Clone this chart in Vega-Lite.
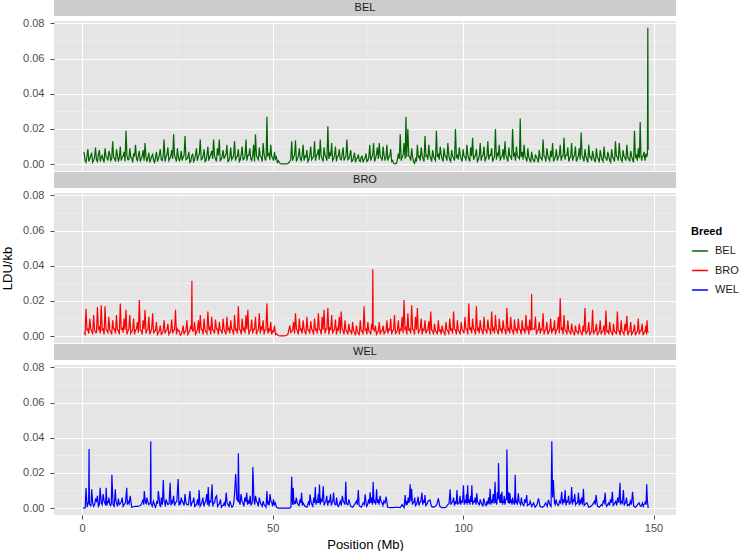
{
"$schema":"https://vega.github.io/schema/vega-lite/v6.json",
"background":"white",
"padding":{"left":1,"top":0,"right":0,"bottom":0},
"config":{"view":{"fill":"#E5E5E5","stroke":null},"font":"Liberation Sans",
"axis":{"gridColor":"#FFFFFF","gridWidth":1.1,"domain":false,"tickColor":"#4D4D4D","tickSize":4,"labelColor":"#4D4D4D","labelFont":"Liberation Sans","labelFontSize":11,"labelOverlap":false,"titleFont":"Liberation Sans","titleFontSize":13,"titleFontWeight":"normal","titleColor":"#000000"},
"legend":{"titleFont":"Liberation Sans","titleFontSize":11,"titleFontWeight":"bold","titleColor":"#000000","labelFont":"Liberation Sans","labelFontSize":11,"labelColor":"#1A1A1A","symbolType":"stroke","symbolSize":250,"symbolStrokeWidth":1.5,"rowPadding":5.5,"labelOffset":6}},
"datasets":{"ld":[
{"Breed":"BEL","Mb":0.5,"LDU":0.007},{"Breed":"BEL","Mb":1,"LDU":0.001},{"Breed":"BEL","Mb":1.5,"LDU":0.0085},{"Breed":"BEL","Mb":2,"LDU":0.003},{"Breed":"BEL","Mb":2.5,"LDU":0.006},{"Breed":"BEL","Mb":3,"LDU":0.002},{"Breed":"BEL","Mb":3.5,"LDU":0.0095},{"Breed":"BEL","Mb":4,"LDU":0.0015},{"Breed":"BEL","Mb":4.5,"LDU":0.008},{"Breed":"BEL","Mb":5,"LDU":0.004},
{"Breed":"BEL","Mb":5.5,"LDU":0.0025},{"Breed":"BEL","Mb":6,"LDU":0.009},{"Breed":"BEL","Mb":6.5,"LDU":0.0035},{"Breed":"BEL","Mb":7,"LDU":0.0075},{"Breed":"BEL","Mb":7.5,"LDU":0.002},{"Breed":"BEL","Mb":8,"LDU":0.013},{"Breed":"BEL","Mb":8.5,"LDU":0.003},{"Breed":"BEL","Mb":9,"LDU":0.0085},{"Breed":"BEL","Mb":9.5,"LDU":0.0015},{"Breed":"BEL","Mb":10,"LDU":0.01},
{"Breed":"BEL","Mb":10.5,"LDU":0.004},{"Breed":"BEL","Mb":11,"LDU":0.007},{"Breed":"BEL","Mb":11.5,"LDU":0.019},{"Breed":"BEL","Mb":12,"LDU":0.0025},{"Breed":"BEL","Mb":12.5,"LDU":0.009},{"Breed":"BEL","Mb":13,"LDU":0.0035},{"Breed":"BEL","Mb":13.5,"LDU":0.006},{"Breed":"BEL","Mb":14,"LDU":0.011},{"Breed":"BEL","Mb":14.5,"LDU":0.002},{"Breed":"BEL","Mb":15,"LDU":0.0075},
{"Breed":"BEL","Mb":15.5,"LDU":0.003},{"Breed":"BEL","Mb":16,"LDU":0.008},{"Breed":"BEL","Mb":16.5,"LDU":0.012},{"Breed":"BEL","Mb":17,"LDU":0.0015},{"Breed":"BEL","Mb":17.5,"LDU":0.0065},{"Breed":"BEL","Mb":18,"LDU":0.0025},{"Breed":"BEL","Mb":18.5,"LDU":0.0055},{"Breed":"BEL","Mb":19,"LDU":0.001},{"Breed":"BEL","Mb":19.5,"LDU":0.007},{"Breed":"BEL","Mb":20,"LDU":0.003},
{"Breed":"BEL","Mb":20.5,"LDU":0.0085},{"Breed":"BEL","Mb":21,"LDU":0.002},{"Breed":"BEL","Mb":21.5,"LDU":0.014},{"Breed":"BEL","Mb":22,"LDU":0.004},{"Breed":"BEL","Mb":22.5,"LDU":0.0095},{"Breed":"BEL","Mb":23,"LDU":0.003},{"Breed":"BEL","Mb":23.5,"LDU":0.008},{"Breed":"BEL","Mb":24,"LDU":0.017},{"Breed":"BEL","Mb":24.5,"LDU":0.0035},{"Breed":"BEL","Mb":25,"LDU":0.009},
{"Breed":"BEL","Mb":25.5,"LDU":0.002},{"Breed":"BEL","Mb":26,"LDU":0.0075},{"Breed":"BEL","Mb":26.5,"LDU":0.004},{"Breed":"BEL","Mb":27,"LDU":0.016},{"Breed":"BEL","Mb":27.5,"LDU":0.003},{"Breed":"BEL","Mb":28,"LDU":0.007},{"Breed":"BEL","Mb":28.5,"LDU":0.0015},{"Breed":"BEL","Mb":29,"LDU":0.006},{"Breed":"BEL","Mb":29.5,"LDU":0.0025},{"Breed":"BEL","Mb":30,"LDU":0.009},
{"Breed":"BEL","Mb":30.5,"LDU":0.0045},{"Breed":"BEL","Mb":31,"LDU":0.014},{"Breed":"BEL","Mb":31.5,"LDU":0.003},{"Breed":"BEL","Mb":32,"LDU":0.0085},{"Breed":"BEL","Mb":32.5,"LDU":0.002},{"Breed":"BEL","Mb":33,"LDU":0.01},{"Breed":"BEL","Mb":33.5,"LDU":0.004},{"Breed":"BEL","Mb":34,"LDU":0.0075},{"Breed":"BEL","Mb":34.5,"LDU":0.014},{"Breed":"BEL","Mb":35,"LDU":0.003},
{"Breed":"BEL","Mb":35.5,"LDU":0.009},{"Breed":"BEL","Mb":36,"LDU":0.014},{"Breed":"BEL","Mb":36.5,"LDU":0.0025},{"Breed":"BEL","Mb":37,"LDU":0.008},{"Breed":"BEL","Mb":37.5,"LDU":0.0045},{"Breed":"BEL","Mb":38,"LDU":0.011},{"Breed":"BEL","Mb":38.5,"LDU":0.002},{"Breed":"BEL","Mb":39,"LDU":0.0095},{"Breed":"BEL","Mb":39.5,"LDU":0.0035},{"Breed":"BEL","Mb":40,"LDU":0.013},
{"Breed":"BEL","Mb":40.5,"LDU":0.004},{"Breed":"BEL","Mb":41,"LDU":0.0085},{"Breed":"BEL","Mb":41.5,"LDU":0.0025},{"Breed":"BEL","Mb":42,"LDU":0.01},{"Breed":"BEL","Mb":42.5,"LDU":0.003},{"Breed":"BEL","Mb":43,"LDU":0.014},{"Breed":"BEL","Mb":43.5,"LDU":0.005},{"Breed":"BEL","Mb":44,"LDU":0.009},{"Breed":"BEL","Mb":44.5,"LDU":0.002},{"Breed":"BEL","Mb":45,"LDU":0.011},
{"Breed":"BEL","Mb":45.5,"LDU":0.017},{"Breed":"BEL","Mb":46,"LDU":0.0035},{"Breed":"BEL","Mb":46.5,"LDU":0.0095},{"Breed":"BEL","Mb":47,"LDU":0.004},{"Breed":"BEL","Mb":47.5,"LDU":0.012},{"Breed":"BEL","Mb":48,"LDU":0.003},{"Breed":"BEL","Mb":48.3,"LDU":0.004},{"Breed":"BEL","Mb":48.5,"LDU":0.027},{"Breed":"BEL","Mb":48.7,"LDU":0.005},{"Breed":"BEL","Mb":49,"LDU":0.006},{"Breed":"BEL","Mb":49.5,"LDU":0.011},{"Breed":"BEL","Mb":50,"LDU":0.0035},
{"Breed":"BEL","Mb":50.5,"LDU":0.007},{"Breed":"BEL","Mb":51,"LDU":0.004},{"Breed":"BEL","Mb":51.5,"LDU":0.002},{"Breed":"BEL","Mb":52,"LDU":0.0003},{"Breed":"BEL","Mb":52.5,"LDU":0.0002},{"Breed":"BEL","Mb":53,"LDU":0.0002},{"Breed":"BEL","Mb":53.5,"LDU":0.0002},{"Breed":"BEL","Mb":54,"LDU":0.0003},{"Breed":"BEL","Mb":54.5,"LDU":0.0015},{"Breed":"BEL","Mb":55,"LDU":0.013},
{"Breed":"BEL","Mb":55.5,"LDU":0.004},{"Breed":"BEL","Mb":56,"LDU":0.0135},{"Breed":"BEL","Mb":56.5,"LDU":0.003},{"Breed":"BEL","Mb":57,"LDU":0.009},{"Breed":"BEL","Mb":57.5,"LDU":0.002},{"Breed":"BEL","Mb":58,"LDU":0.011},{"Breed":"BEL","Mb":58.5,"LDU":0.0045},{"Breed":"BEL","Mb":59,"LDU":0.008},{"Breed":"BEL","Mb":59.5,"LDU":0.0025},{"Breed":"BEL","Mb":60,"LDU":0.01},
{"Breed":"BEL","Mb":60.5,"LDU":0.0035},{"Breed":"BEL","Mb":61,"LDU":0.013},{"Breed":"BEL","Mb":61.5,"LDU":0.005},{"Breed":"BEL","Mb":62,"LDU":0.0085},{"Breed":"BEL","Mb":62.5,"LDU":0.014},{"Breed":"BEL","Mb":63,"LDU":0.003},{"Breed":"BEL","Mb":63.5,"LDU":0.0095},{"Breed":"BEL","Mb":64,"LDU":0.004},{"Breed":"BEL","Mb":64.5,"LDU":0.0215},{"Breed":"BEL","Mb":65,"LDU":0.006},
{"Breed":"BEL","Mb":65.5,"LDU":0.012},{"Breed":"BEL","Mb":66,"LDU":0.003},{"Breed":"BEL","Mb":66.5,"LDU":0.01},{"Breed":"BEL","Mb":67,"LDU":0.0045},{"Breed":"BEL","Mb":67.5,"LDU":0.0085},{"Breed":"BEL","Mb":68,"LDU":0.0025},{"Breed":"BEL","Mb":68.5,"LDU":0.0095},{"Breed":"BEL","Mb":69,"LDU":0.0035},{"Breed":"BEL","Mb":69.5,"LDU":0.014},{"Breed":"BEL","Mb":70,"LDU":0.003},
{"Breed":"BEL","Mb":70.5,"LDU":0.008},{"Breed":"BEL","Mb":71,"LDU":0.002},{"Breed":"BEL","Mb":71.5,"LDU":0.0065},{"Breed":"BEL","Mb":72,"LDU":0.003},{"Breed":"BEL","Mb":72.5,"LDU":0.0055},{"Breed":"BEL","Mb":73,"LDU":0.0015},{"Breed":"BEL","Mb":73.5,"LDU":0.0045},{"Breed":"BEL","Mb":74,"LDU":0.0025},{"Breed":"BEL","Mb":74.5,"LDU":0.006},{"Breed":"BEL","Mb":75,"LDU":0.002},
{"Breed":"BEL","Mb":75.5,"LDU":0.011},{"Breed":"BEL","Mb":76,"LDU":0.004},{"Breed":"BEL","Mb":76.5,"LDU":0.012},{"Breed":"BEL","Mb":77,"LDU":0.003},{"Breed":"BEL","Mb":77.5,"LDU":0.0095},{"Breed":"BEL","Mb":78,"LDU":0.012},{"Breed":"BEL","Mb":78.5,"LDU":0.0035},{"Breed":"BEL","Mb":79,"LDU":0.01},{"Breed":"BEL","Mb":79.5,"LDU":0.0025},{"Breed":"BEL","Mb":80,"LDU":0.011},
{"Breed":"BEL","Mb":80.5,"LDU":0.004},{"Breed":"BEL","Mb":81,"LDU":0.0085},{"Breed":"BEL","Mb":81.5,"LDU":0.002},{"Breed":"BEL","Mb":82,"LDU":0.0003},{"Breed":"BEL","Mb":82.5,"LDU":0.0005},{"Breed":"BEL","Mb":83,"LDU":0.006},{"Breed":"BEL","Mb":83.5,"LDU":0.017},{"Breed":"BEL","Mb":84,"LDU":0.004},{"Breed":"BEL","Mb":84.5,"LDU":0.012},{"Breed":"BEL","Mb":84.8,"LDU":0.003},{"Breed":"BEL","Mb":85,"LDU":0.027},{"Breed":"BEL","Mb":85.2,"LDU":0.004},
{"Breed":"BEL","Mb":85.5,"LDU":0.02},{"Breed":"BEL","Mb":86,"LDU":0.004},{"Breed":"BEL","Mb":86.5,"LDU":0.009},{"Breed":"BEL","Mb":87,"LDU":0.0015},{"Breed":"BEL","Mb":87.5,"LDU":0.003},{"Breed":"BEL","Mb":88,"LDU":0.011},{"Breed":"BEL","Mb":88.5,"LDU":0.0045},{"Breed":"BEL","Mb":89,"LDU":0.0095},{"Breed":"BEL","Mb":89.5,"LDU":0.003},{"Breed":"BEL","Mb":90,"LDU":0.016},
{"Breed":"BEL","Mb":90.5,"LDU":0.005},{"Breed":"BEL","Mb":91,"LDU":0.011},{"Breed":"BEL","Mb":91.5,"LDU":0.0035},{"Breed":"BEL","Mb":92,"LDU":0.008},{"Breed":"BEL","Mb":92.5,"LDU":0.003},{"Breed":"BEL","Mb":93,"LDU":0.019},{"Breed":"BEL","Mb":93.5,"LDU":0.006},{"Breed":"BEL","Mb":94,"LDU":0.01},{"Breed":"BEL","Mb":94.5,"LDU":0.003},{"Breed":"BEL","Mb":95,"LDU":0.009},
{"Breed":"BEL","Mb":95.5,"LDU":0.0045},{"Breed":"BEL","Mb":96,"LDU":0.012},{"Breed":"BEL","Mb":96.5,"LDU":0.0025},{"Breed":"BEL","Mb":97,"LDU":0.008},{"Breed":"BEL","Mb":97.5,"LDU":0.0035},{"Breed":"BEL","Mb":98,"LDU":0.02},{"Breed":"BEL","Mb":98.5,"LDU":0.005},{"Breed":"BEL","Mb":99,"LDU":0.0095},{"Breed":"BEL","Mb":99.5,"LDU":0.003},{"Breed":"BEL","Mb":100,"LDU":0.0085},
{"Breed":"BEL","Mb":100.5,"LDU":0.004},{"Breed":"BEL","Mb":101,"LDU":0.011},{"Breed":"BEL","Mb":101.5,"LDU":0.003},{"Breed":"BEL","Mb":102,"LDU":0.0095},{"Breed":"BEL","Mb":102.5,"LDU":0.015},{"Breed":"BEL","Mb":103,"LDU":0.004},{"Breed":"BEL","Mb":103.5,"LDU":0.0085},{"Breed":"BEL","Mb":104,"LDU":0.0025},{"Breed":"BEL","Mb":104.5,"LDU":0.012},{"Breed":"BEL","Mb":105,"LDU":0.0045},
{"Breed":"BEL","Mb":105.5,"LDU":0.01},{"Breed":"BEL","Mb":106,"LDU":0.0035},{"Breed":"BEL","Mb":106.5,"LDU":0.013},{"Breed":"BEL","Mb":107,"LDU":0.005},{"Breed":"BEL","Mb":107.5,"LDU":0.009},{"Breed":"BEL","Mb":108,"LDU":0.003},{"Breed":"BEL","Mb":108.5,"LDU":0.02},{"Breed":"BEL","Mb":109,"LDU":0.006},{"Breed":"BEL","Mb":109.5,"LDU":0.011},{"Breed":"BEL","Mb":110,"LDU":0.004},
{"Breed":"BEL","Mb":110.5,"LDU":0.0085},{"Breed":"BEL","Mb":111,"LDU":0.013},{"Breed":"BEL","Mb":111.5,"LDU":0.0035},{"Breed":"BEL","Mb":112,"LDU":0.0095},{"Breed":"BEL","Mb":112.5,"LDU":0.0045},{"Breed":"BEL","Mb":113,"LDU":0.02},{"Breed":"BEL","Mb":113.5,"LDU":0.006},{"Breed":"BEL","Mb":114,"LDU":0.01},{"Breed":"BEL","Mb":114.5,"LDU":0.004},{"Breed":"BEL","Mb":114.8,"LDU":0.003},{"Breed":"BEL","Mb":115,"LDU":0.026},{"Breed":"BEL","Mb":115.2,"LDU":0.004},
{"Breed":"BEL","Mb":115.5,"LDU":0.007},{"Breed":"BEL","Mb":116,"LDU":0.011},{"Breed":"BEL","Mb":116.5,"LDU":0.0035},{"Breed":"BEL","Mb":117,"LDU":0.009},{"Breed":"BEL","Mb":117.5,"LDU":0.0025},{"Breed":"BEL","Mb":118,"LDU":0.007},{"Breed":"BEL","Mb":118.5,"LDU":0.002},{"Breed":"BEL","Mb":119,"LDU":0.0055},{"Breed":"BEL","Mb":119.5,"LDU":0.003},{"Breed":"BEL","Mb":120,"LDU":0.008},
{"Breed":"BEL","Mb":120.5,"LDU":0.0035},{"Breed":"BEL","Mb":121,"LDU":0.014},{"Breed":"BEL","Mb":121.5,"LDU":0.004},{"Breed":"BEL","Mb":122,"LDU":0.009},{"Breed":"BEL","Mb":122.5,"LDU":0.003},{"Breed":"BEL","Mb":123,"LDU":0.0075},{"Breed":"BEL","Mb":123.5,"LDU":0.012},{"Breed":"BEL","Mb":124,"LDU":0.003},{"Breed":"BEL","Mb":124.5,"LDU":0.0085},{"Breed":"BEL","Mb":125,"LDU":0.004},
{"Breed":"BEL","Mb":125.5,"LDU":0.011},{"Breed":"BEL","Mb":126,"LDU":0.0045},{"Breed":"BEL","Mb":126.5,"LDU":0.015},{"Breed":"BEL","Mb":127,"LDU":0.005},{"Breed":"BEL","Mb":127.5,"LDU":0.0095},{"Breed":"BEL","Mb":128,"LDU":0.0035},{"Breed":"BEL","Mb":128.5,"LDU":0.012},{"Breed":"BEL","Mb":129,"LDU":0.004},{"Breed":"BEL","Mb":129.5,"LDU":0.01},{"Breed":"BEL","Mb":130,"LDU":0.003},
{"Breed":"BEL","Mb":130.5,"LDU":0.009},{"Breed":"BEL","Mb":131,"LDU":0.018},{"Breed":"BEL","Mb":131.5,"LDU":0.0035},{"Breed":"BEL","Mb":132,"LDU":0.0085},{"Breed":"BEL","Mb":132.5,"LDU":0.0025},{"Breed":"BEL","Mb":133,"LDU":0.011},{"Breed":"BEL","Mb":133.5,"LDU":0.004},{"Breed":"BEL","Mb":134,"LDU":0.0075},{"Breed":"BEL","Mb":134.5,"LDU":0.002},{"Breed":"BEL","Mb":135,"LDU":0.009},
{"Breed":"BEL","Mb":135.5,"LDU":0.003},{"Breed":"BEL","Mb":136,"LDU":0.008},{"Breed":"BEL","Mb":136.5,"LDU":0.0025},{"Breed":"BEL","Mb":137,"LDU":0.01},{"Breed":"BEL","Mb":137.5,"LDU":0.0035},{"Breed":"BEL","Mb":138,"LDU":0.007},{"Breed":"BEL","Mb":138.5,"LDU":0.002},{"Breed":"BEL","Mb":139,"LDU":0.0085},{"Breed":"BEL","Mb":139.5,"LDU":0.003},{"Breed":"BEL","Mb":140,"LDU":0.013},
{"Breed":"BEL","Mb":140.5,"LDU":0.004},{"Breed":"BEL","Mb":141,"LDU":0.012},{"Breed":"BEL","Mb":141.5,"LDU":0.0025},{"Breed":"BEL","Mb":142,"LDU":0.008},{"Breed":"BEL","Mb":142.5,"LDU":0.0035},{"Breed":"BEL","Mb":143,"LDU":0.011},{"Breed":"BEL","Mb":143.5,"LDU":0.003},{"Breed":"BEL","Mb":144,"LDU":0.0075},{"Breed":"BEL","Mb":144.5,"LDU":0.0025},{"Breed":"BEL","Mb":145,"LDU":0.019},
{"Breed":"BEL","Mb":145.5,"LDU":0.005},{"Breed":"BEL","Mb":146,"LDU":0.009},{"Breed":"BEL","Mb":146.3,"LDU":0.004},{"Breed":"BEL","Mb":146.5,"LDU":0.024},{"Breed":"BEL","Mb":146.7,"LDU":0.005},{"Breed":"BEL","Mb":147,"LDU":0.004},{"Breed":"BEL","Mb":147.5,"LDU":0.007},{"Breed":"BEL","Mb":148,"LDU":0.006},{"Breed":"BEL","Mb":148.4,"LDU":0.006},{"Breed":"BEL","Mb":148.5,"LDU":0.0775},{"Breed":"BEL","Mb":148.6,"LDU":0.008},
{"Breed":"BEL","Mb":0.75,"LDU":0.002},{"Breed":"BEL","Mb":1.25,"LDU":0.0045},{"Breed":"BEL","Mb":1.75,"LDU":0.0015},{"Breed":"BEL","Mb":2.25,"LDU":0.005},{"Breed":"BEL","Mb":2.75,"LDU":0.001},{"Breed":"BEL","Mb":3.25,"LDU":0.004},{"Breed":"BEL","Mb":3.75,"LDU":0.0025},{"Breed":"BEL","Mb":4.25,"LDU":0.0055},{"Breed":"BEL","Mb":4.75,"LDU":0.0015},{"Breed":"BEL","Mb":5.25,"LDU":0.005},
{"Breed":"BEL","Mb":5.75,"LDU":0.001},{"Breed":"BEL","Mb":6.25,"LDU":0.0045},{"Breed":"BEL","Mb":6.75,"LDU":0.002},{"Breed":"BEL","Mb":7.25,"LDU":0.0055},{"Breed":"BEL","Mb":7.75,"LDU":0.003},{"Breed":"BEL","Mb":8.25,"LDU":0.004},{"Breed":"BEL","Mb":8.75,"LDU":0.0015},{"Breed":"BEL","Mb":9.25,"LDU":0.005},{"Breed":"BEL","Mb":9.75,"LDU":0.0035},{"Breed":"BEL","Mb":10.25,"LDU":0.002},
{"Breed":"BEL","Mb":10.75,"LDU":0.0045},{"Breed":"BEL","Mb":11.25,"LDU":0.0015},{"Breed":"BEL","Mb":11.75,"LDU":0.005},{"Breed":"BEL","Mb":12.25,"LDU":0.0025},{"Breed":"BEL","Mb":12.75,"LDU":0.004},{"Breed":"BEL","Mb":13.25,"LDU":0.001},{"Breed":"BEL","Mb":13.75,"LDU":0.0045},{"Breed":"BEL","Mb":14.25,"LDU":0.003},{"Breed":"BEL","Mb":14.75,"LDU":0.005},{"Breed":"BEL","Mb":15.25,"LDU":0.0015},
{"Breed":"BEL","Mb":15.75,"LDU":0.0045},{"Breed":"BEL","Mb":16.25,"LDU":0.002},{"Breed":"BEL","Mb":16.75,"LDU":0.004},{"Breed":"BEL","Mb":17.25,"LDU":0.0035},{"Breed":"BEL","Mb":17.75,"LDU":0.001},{"Breed":"BEL","Mb":18.25,"LDU":0.0045},{"Breed":"BEL","Mb":18.75,"LDU":0.002},{"Breed":"BEL","Mb":19.25,"LDU":0.004},{"Breed":"BEL","Mb":19.75,"LDU":0.0015},{"Breed":"BEL","Mb":20.25,"LDU":0.005},
{"Breed":"BEL","Mb":20.75,"LDU":0.0025},{"Breed":"BEL","Mb":21.25,"LDU":0.0045},{"Breed":"BEL","Mb":21.75,"LDU":0.0015},{"Breed":"BEL","Mb":22.25,"LDU":0.0055},{"Breed":"BEL","Mb":22.75,"LDU":0.002},{"Breed":"BEL","Mb":23.25,"LDU":0.0045},{"Breed":"BEL","Mb":23.75,"LDU":0.003},{"Breed":"BEL","Mb":24.25,"LDU":0.005},{"Breed":"BEL","Mb":24.75,"LDU":0.0015},{"Breed":"BEL","Mb":25.25,"LDU":0.004},
{"Breed":"BEL","Mb":25.75,"LDU":0.0035},{"Breed":"BEL","Mb":26.25,"LDU":0.002},{"Breed":"BEL","Mb":26.75,"LDU":0.005},{"Breed":"BEL","Mb":27.25,"LDU":0.0025},{"Breed":"BEL","Mb":27.75,"LDU":0.004},{"Breed":"BEL","Mb":28.25,"LDU":0.001},{"Breed":"BEL","Mb":28.75,"LDU":0.0045},{"Breed":"BEL","Mb":29.25,"LDU":0.0015},{"Breed":"BEL","Mb":29.75,"LDU":0.005},{"Breed":"BEL","Mb":30.25,"LDU":0.002},
{"Breed":"BEL","Mb":30.75,"LDU":0.0055},{"Breed":"BEL","Mb":31.25,"LDU":0.0025},{"Breed":"BEL","Mb":31.75,"LDU":0.0045},{"Breed":"BEL","Mb":32.25,"LDU":0.0015},{"Breed":"BEL","Mb":32.75,"LDU":0.005},{"Breed":"BEL","Mb":33.25,"LDU":0.002},{"Breed":"BEL","Mb":33.75,"LDU":0.0055},{"Breed":"BEL","Mb":34.25,"LDU":0.003},{"Breed":"BEL","Mb":34.75,"LDU":0.0045},{"Breed":"BEL","Mb":35.25,"LDU":0.0015},
{"Breed":"BEL","Mb":35.75,"LDU":0.005},{"Breed":"BEL","Mb":36.25,"LDU":0.002},{"Breed":"BEL","Mb":36.75,"LDU":0.0045},{"Breed":"BEL","Mb":37.25,"LDU":0.003},{"Breed":"BEL","Mb":37.75,"LDU":0.0055},{"Breed":"BEL","Mb":38.25,"LDU":0.0015},{"Breed":"BEL","Mb":38.75,"LDU":0.004},{"Breed":"BEL","Mb":39.25,"LDU":0.0025},{"Breed":"BEL","Mb":39.75,"LDU":0.005},{"Breed":"BEL","Mb":40.25,"LDU":0.002},
{"Breed":"BEL","Mb":40.75,"LDU":0.0045},{"Breed":"BEL","Mb":41.25,"LDU":0.0015},{"Breed":"BEL","Mb":41.75,"LDU":0.0055},{"Breed":"BEL","Mb":42.25,"LDU":0.0025},{"Breed":"BEL","Mb":42.75,"LDU":0.0045},{"Breed":"BEL","Mb":43.25,"LDU":0.002},{"Breed":"BEL","Mb":43.75,"LDU":0.005},{"Breed":"BEL","Mb":44.25,"LDU":0.003},{"Breed":"BEL","Mb":44.75,"LDU":0.0045},{"Breed":"BEL","Mb":45.25,"LDU":0.0015},
{"Breed":"BEL","Mb":45.75,"LDU":0.005},{"Breed":"BEL","Mb":46.25,"LDU":0.0025},{"Breed":"BEL","Mb":46.75,"LDU":0.0045},{"Breed":"BEL","Mb":47.25,"LDU":0.0015},{"Breed":"BEL","Mb":47.75,"LDU":0.0055},{"Breed":"BEL","Mb":48.15,"LDU":0.002},{"Breed":"BEL","Mb":49.25,"LDU":0.0025},{"Breed":"BEL","Mb":49.75,"LDU":0.0045},{"Breed":"BEL","Mb":50.25,"LDU":0.002},{"Breed":"BEL","Mb":50.75,"LDU":0.003},{"Breed":"BEL","Mb":51.25,"LDU":0.001},
{"Breed":"BEL","Mb":54.75,"LDU":0.0025},{"Breed":"BEL","Mb":55.25,"LDU":0.002},{"Breed":"BEL","Mb":55.75,"LDU":0.005},{"Breed":"BEL","Mb":56.25,"LDU":0.0015},{"Breed":"BEL","Mb":56.75,"LDU":0.0045},{"Breed":"BEL","Mb":57.25,"LDU":0.003},{"Breed":"BEL","Mb":57.75,"LDU":0.005},{"Breed":"BEL","Mb":58.25,"LDU":0.002},{"Breed":"BEL","Mb":58.75,"LDU":0.004},{"Breed":"BEL","Mb":59.25,"LDU":0.0015},{"Breed":"BEL","Mb":59.75,"LDU":0.005},{"Breed":"BEL","Mb":60.25,"LDU":0.0025},
{"Breed":"BEL","Mb":60.75,"LDU":0.0045},{"Breed":"BEL","Mb":61.25,"LDU":0.002},{"Breed":"BEL","Mb":61.75,"LDU":0.0055},{"Breed":"BEL","Mb":62.25,"LDU":0.0025},{"Breed":"BEL","Mb":62.75,"LDU":0.0045},{"Breed":"BEL","Mb":63.25,"LDU":0.0015},{"Breed":"BEL","Mb":63.75,"LDU":0.005},{"Breed":"BEL","Mb":64.25,"LDU":0.002},{"Breed":"BEL","Mb":64.75,"LDU":0.003},{"Breed":"BEL","Mb":65.25,"LDU":0.0045},
{"Breed":"BEL","Mb":65.75,"LDU":0.002},{"Breed":"BEL","Mb":66.25,"LDU":0.005},{"Breed":"BEL","Mb":66.75,"LDU":0.0015},{"Breed":"BEL","Mb":67.25,"LDU":0.0045},{"Breed":"BEL","Mb":67.75,"LDU":0.003},{"Breed":"BEL","Mb":68.25,"LDU":0.0055},{"Breed":"BEL","Mb":68.75,"LDU":0.002},{"Breed":"BEL","Mb":69.25,"LDU":0.0045},{"Breed":"BEL","Mb":69.75,"LDU":0.0025},{"Breed":"BEL","Mb":70.25,"LDU":0.005},
{"Breed":"BEL","Mb":70.75,"LDU":0.0015},{"Breed":"BEL","Mb":71.25,"LDU":0.004},{"Breed":"BEL","Mb":71.75,"LDU":0.001},{"Breed":"BEL","Mb":72.25,"LDU":0.0035},{"Breed":"BEL","Mb":72.75,"LDU":0.002},{"Breed":"BEL","Mb":73.25,"LDU":0.004},{"Breed":"BEL","Mb":73.75,"LDU":0.001},{"Breed":"BEL","Mb":74.25,"LDU":0.0035},{"Breed":"BEL","Mb":74.75,"LDU":0.0015},{"Breed":"BEL","Mb":75.25,"LDU":0.004},
{"Breed":"BEL","Mb":75.75,"LDU":0.002},{"Breed":"BEL","Mb":76.25,"LDU":0.005},{"Breed":"BEL","Mb":76.75,"LDU":0.0015},{"Breed":"BEL","Mb":77.25,"LDU":0.0055},{"Breed":"BEL","Mb":77.75,"LDU":0.003},{"Breed":"BEL","Mb":78.25,"LDU":0.0045},{"Breed":"BEL","Mb":78.75,"LDU":0.002},{"Breed":"BEL","Mb":79.25,"LDU":0.005},{"Breed":"BEL","Mb":79.75,"LDU":0.0035},{"Breed":"BEL","Mb":80.25,"LDU":0.002},
{"Breed":"BEL","Mb":80.75,"LDU":0.0045},{"Breed":"BEL","Mb":81.25,"LDU":0.0015},{"Breed":"BEL","Mb":81.75,"LDU":0.0005},{"Breed":"BEL","Mb":82.25,"LDU":0.0002},{"Breed":"BEL","Mb":82.75,"LDU":0.0025},{"Breed":"BEL","Mb":83.25,"LDU":0.003},{"Breed":"BEL","Mb":83.75,"LDU":0.002},{"Breed":"BEL","Mb":84.25,"LDU":0.005},{"Breed":"BEL","Mb":85.75,"LDU":0.0045},
{"Breed":"BEL","Mb":86.25,"LDU":0.002},{"Breed":"BEL","Mb":86.75,"LDU":0.004},{"Breed":"BEL","Mb":87.25,"LDU":0.0005},{"Breed":"BEL","Mb":87.75,"LDU":0.0015},{"Breed":"BEL","Mb":88.25,"LDU":0.004},{"Breed":"BEL","Mb":88.75,"LDU":0.002},{"Breed":"BEL","Mb":89.25,"LDU":0.005},{"Breed":"BEL","Mb":89.75,"LDU":0.0015},{"Breed":"BEL","Mb":90.25,"LDU":0.0045},{"Breed":"BEL","Mb":90.75,"LDU":0.0025},
{"Breed":"BEL","Mb":91.25,"LDU":0.005},{"Breed":"BEL","Mb":91.75,"LDU":0.0015},{"Breed":"BEL","Mb":92.25,"LDU":0.0045},{"Breed":"BEL","Mb":92.75,"LDU":0.002},{"Breed":"BEL","Mb":93.25,"LDU":0.004},{"Breed":"BEL","Mb":93.75,"LDU":0.0025},{"Breed":"BEL","Mb":94.25,"LDU":0.0055},{"Breed":"BEL","Mb":94.75,"LDU":0.0015},{"Breed":"BEL","Mb":95.25,"LDU":0.0045},{"Breed":"BEL","Mb":95.75,"LDU":0.002},
{"Breed":"BEL","Mb":96.25,"LDU":0.005},{"Breed":"BEL","Mb":96.75,"LDU":0.0015},{"Breed":"BEL","Mb":97.25,"LDU":0.0045},{"Breed":"BEL","Mb":97.75,"LDU":0.002},{"Breed":"BEL","Mb":98.25,"LDU":0.004},{"Breed":"BEL","Mb":98.75,"LDU":0.0025},{"Breed":"BEL","Mb":99.25,"LDU":0.005},{"Breed":"BEL","Mb":99.75,"LDU":0.0015},{"Breed":"BEL","Mb":100.25,"LDU":0.0045},{"Breed":"BEL","Mb":100.75,"LDU":0.002},
{"Breed":"BEL","Mb":101.25,"LDU":0.005},{"Breed":"BEL","Mb":101.75,"LDU":0.0015},{"Breed":"BEL","Mb":102.25,"LDU":0.0045},{"Breed":"BEL","Mb":102.75,"LDU":0.0025},{"Breed":"BEL","Mb":103.25,"LDU":0.005},{"Breed":"BEL","Mb":103.75,"LDU":0.0015},{"Breed":"BEL","Mb":104.25,"LDU":0.0045},{"Breed":"BEL","Mb":104.75,"LDU":0.002},{"Breed":"BEL","Mb":105.25,"LDU":0.005},{"Breed":"BEL","Mb":105.75,"LDU":0.0015},
{"Breed":"BEL","Mb":106.25,"LDU":0.0045},{"Breed":"BEL","Mb":106.75,"LDU":0.0025},{"Breed":"BEL","Mb":107.25,"LDU":0.005},{"Breed":"BEL","Mb":107.75,"LDU":0.0015},{"Breed":"BEL","Mb":108.25,"LDU":0.0045},{"Breed":"BEL","Mb":108.75,"LDU":0.0025},{"Breed":"BEL","Mb":109.25,"LDU":0.005},{"Breed":"BEL","Mb":109.75,"LDU":0.002},{"Breed":"BEL","Mb":110.25,"LDU":0.0045},{"Breed":"BEL","Mb":110.75,"LDU":0.0025},
{"Breed":"BEL","Mb":111.25,"LDU":0.005},{"Breed":"BEL","Mb":111.75,"LDU":0.0015},{"Breed":"BEL","Mb":112.25,"LDU":0.0045},{"Breed":"BEL","Mb":112.75,"LDU":0.0025},{"Breed":"BEL","Mb":113.25,"LDU":0.005},{"Breed":"BEL","Mb":113.75,"LDU":0.002},{"Breed":"BEL","Mb":114.25,"LDU":0.0045},{"Breed":"BEL","Mb":115.75,"LDU":0.0025},
{"Breed":"BEL","Mb":116.25,"LDU":0.0045},{"Breed":"BEL","Mb":116.75,"LDU":0.0015},{"Breed":"BEL","Mb":117.25,"LDU":0.004},{"Breed":"BEL","Mb":117.75,"LDU":0.001},{"Breed":"BEL","Mb":118.25,"LDU":0.0035},{"Breed":"BEL","Mb":118.75,"LDU":0.0015},{"Breed":"BEL","Mb":119.25,"LDU":0.004},{"Breed":"BEL","Mb":119.75,"LDU":0.001},{"Breed":"BEL","Mb":120.25,"LDU":0.0035},{"Breed":"BEL","Mb":120.75,"LDU":0.002},
{"Breed":"BEL","Mb":121.25,"LDU":0.0045},{"Breed":"BEL","Mb":121.75,"LDU":0.0015},{"Breed":"BEL","Mb":122.25,"LDU":0.005},{"Breed":"BEL","Mb":122.75,"LDU":0.002},{"Breed":"BEL","Mb":123.25,"LDU":0.004},{"Breed":"BEL","Mb":123.75,"LDU":0.0015},{"Breed":"BEL","Mb":124.25,"LDU":0.0045},{"Breed":"BEL","Mb":124.75,"LDU":0.002},{"Breed":"BEL","Mb":125.25,"LDU":0.005},{"Breed":"BEL","Mb":125.75,"LDU":0.002},
{"Breed":"BEL","Mb":126.25,"LDU":0.0045},{"Breed":"BEL","Mb":126.75,"LDU":0.0025},{"Breed":"BEL","Mb":127.25,"LDU":0.005},{"Breed":"BEL","Mb":127.75,"LDU":0.0015},{"Breed":"BEL","Mb":128.25,"LDU":0.0045},{"Breed":"BEL","Mb":128.75,"LDU":0.002},{"Breed":"BEL","Mb":129.25,"LDU":0.005},{"Breed":"BEL","Mb":129.75,"LDU":0.0015},{"Breed":"BEL","Mb":130.25,"LDU":0.0045},{"Breed":"BEL","Mb":130.75,"LDU":0.0025},
{"Breed":"BEL","Mb":131.25,"LDU":0.005},{"Breed":"BEL","Mb":131.75,"LDU":0.0015},{"Breed":"BEL","Mb":132.25,"LDU":0.0045},{"Breed":"BEL","Mb":132.75,"LDU":0.001},{"Breed":"BEL","Mb":133.25,"LDU":0.004},{"Breed":"BEL","Mb":133.75,"LDU":0.002},{"Breed":"BEL","Mb":134.25,"LDU":0.0045},{"Breed":"BEL","Mb":134.75,"LDU":0.0015},{"Breed":"BEL","Mb":135.25,"LDU":0.004},{"Breed":"BEL","Mb":135.75,"LDU":0.001},
{"Breed":"BEL","Mb":136.25,"LDU":0.0045},{"Breed":"BEL","Mb":136.75,"LDU":0.0015},{"Breed":"BEL","Mb":137.25,"LDU":0.004},{"Breed":"BEL","Mb":137.75,"LDU":0.002},{"Breed":"BEL","Mb":138.25,"LDU":0.0045},{"Breed":"BEL","Mb":138.75,"LDU":0.001},{"Breed":"BEL","Mb":139.25,"LDU":0.004},{"Breed":"BEL","Mb":139.75,"LDU":0.0015},{"Breed":"BEL","Mb":140.25,"LDU":0.0045},{"Breed":"BEL","Mb":140.75,"LDU":0.002},
{"Breed":"BEL","Mb":141.25,"LDU":0.005},{"Breed":"BEL","Mb":141.75,"LDU":0.0015},{"Breed":"BEL","Mb":142.25,"LDU":0.0045},{"Breed":"BEL","Mb":142.75,"LDU":0.002},{"Breed":"BEL","Mb":143.25,"LDU":0.004},{"Breed":"BEL","Mb":143.75,"LDU":0.0015},{"Breed":"BEL","Mb":144.25,"LDU":0.0045},{"Breed":"BEL","Mb":144.75,"LDU":0.001},{"Breed":"BEL","Mb":145.25,"LDU":0.004},{"Breed":"BEL","Mb":145.75,"LDU":0.002},
{"Breed":"BEL","Mb":146.1,"LDU":0.0045},{"Breed":"BEL","Mb":146.9,"LDU":0.002},{"Breed":"BEL","Mb":147.25,"LDU":0.0045},{"Breed":"BEL","Mb":147.75,"LDU":0.002},{"Breed":"BEL","Mb":148.2,"LDU":0.004},
{"Breed":"BRO","Mb":0.5,"LDU":0.002},{"Breed":"BRO","Mb":1,"LDU":0.0155},{"Breed":"BRO","Mb":1.5,"LDU":0.004},{"Breed":"BRO","Mb":2,"LDU":0.01},{"Breed":"BRO","Mb":2.5,"LDU":0.003},{"Breed":"BRO","Mb":3,"LDU":0.012},{"Breed":"BRO","Mb":3.5,"LDU":0.002},{"Breed":"BRO","Mb":4,"LDU":0.0165},{"Breed":"BRO","Mb":4.5,"LDU":0.005},{"Breed":"BRO","Mb":5,"LDU":0.0175},
{"Breed":"BRO","Mb":5.5,"LDU":0.004},{"Breed":"BRO","Mb":6,"LDU":0.017},{"Breed":"BRO","Mb":6.5,"LDU":0.003},{"Breed":"BRO","Mb":7,"LDU":0.011},{"Breed":"BRO","Mb":7.5,"LDU":0.0025},{"Breed":"BRO","Mb":8,"LDU":0.009},{"Breed":"BRO","Mb":8.5,"LDU":0.004},{"Breed":"BRO","Mb":9,"LDU":0.012},{"Breed":"BRO","Mb":9.5,"LDU":0.003},{"Breed":"BRO","Mb":10,"LDU":0.0185},
{"Breed":"BRO","Mb":10.5,"LDU":0.0045},{"Breed":"BRO","Mb":11,"LDU":0.01},{"Breed":"BRO","Mb":11.5,"LDU":0.015},{"Breed":"BRO","Mb":12,"LDU":0.003},{"Breed":"BRO","Mb":12.5,"LDU":0.012},{"Breed":"BRO","Mb":13,"LDU":0.0025},{"Breed":"BRO","Mb":13.5,"LDU":0.01},{"Breed":"BRO","Mb":14,"LDU":0.0035},{"Breed":"BRO","Mb":14.5,"LDU":0.008},{"Breed":"BRO","Mb":15,"LDU":0.0205},
{"Breed":"BRO","Mb":15.5,"LDU":0.003},{"Breed":"BRO","Mb":16,"LDU":0.009},{"Breed":"BRO","Mb":16.5,"LDU":0.015},{"Breed":"BRO","Mb":17,"LDU":0.0035},{"Breed":"BRO","Mb":17.5,"LDU":0.011},{"Breed":"BRO","Mb":18,"LDU":0.0025},{"Breed":"BRO","Mb":18.5,"LDU":0.013},{"Breed":"BRO","Mb":19,"LDU":0.003},{"Breed":"BRO","Mb":19.5,"LDU":0.008},{"Breed":"BRO","Mb":20,"LDU":0.002},
{"Breed":"BRO","Mb":20.5,"LDU":0.006},{"Breed":"BRO","Mb":21,"LDU":0.0015},{"Breed":"BRO","Mb":21.5,"LDU":0.009},{"Breed":"BRO","Mb":22,"LDU":0.003},{"Breed":"BRO","Mb":22.5,"LDU":0.007},{"Breed":"BRO","Mb":23,"LDU":0.002},{"Breed":"BRO","Mb":23.5,"LDU":0.0095},{"Breed":"BRO","Mb":24,"LDU":0.0035},{"Breed":"BRO","Mb":24.5,"LDU":0.015},{"Breed":"BRO","Mb":25,"LDU":0.004},
{"Breed":"BRO","Mb":25.5,"LDU":0.003},{"Breed":"BRO","Mb":26,"LDU":0.001},{"Breed":"BRO","Mb":26.5,"LDU":0.006},{"Breed":"BRO","Mb":27,"LDU":0.0025},{"Breed":"BRO","Mb":27.5,"LDU":0.009},{"Breed":"BRO","Mb":28,"LDU":0.002},{"Breed":"BRO","Mb":28.5,"LDU":0.006},{"Breed":"BRO","Mb":28.7,"LDU":0.004},{"Breed":"BRO","Mb":28.8,"LDU":0.0315},{"Breed":"BRO","Mb":28.9,"LDU":0.004},{"Breed":"BRO","Mb":29,"LDU":0.003},{"Breed":"BRO","Mb":29.5,"LDU":0.008},{"Breed":"BRO","Mb":30,"LDU":0.002},
{"Breed":"BRO","Mb":30.5,"LDU":0.009},{"Breed":"BRO","Mb":31,"LDU":0.012},{"Breed":"BRO","Mb":31.5,"LDU":0.0035},{"Breed":"BRO","Mb":32,"LDU":0.01},{"Breed":"BRO","Mb":32.5,"LDU":0.0025},{"Breed":"BRO","Mb":33,"LDU":0.014},{"Breed":"BRO","Mb":33.5,"LDU":0.005},{"Breed":"BRO","Mb":34,"LDU":0.011},{"Breed":"BRO","Mb":34.5,"LDU":0.003},{"Breed":"BRO","Mb":35,"LDU":0.0095},
{"Breed":"BRO","Mb":35.5,"LDU":0.004},{"Breed":"BRO","Mb":36,"LDU":0.008},{"Breed":"BRO","Mb":36.5,"LDU":0.003},{"Breed":"BRO","Mb":37,"LDU":0.01},{"Breed":"BRO","Mb":37.5,"LDU":0.0025},{"Breed":"BRO","Mb":38,"LDU":0.011},{"Breed":"BRO","Mb":38.5,"LDU":0.0045},{"Breed":"BRO","Mb":39,"LDU":0.009},{"Breed":"BRO","Mb":39.5,"LDU":0.003},{"Breed":"BRO","Mb":40,"LDU":0.012},
{"Breed":"BRO","Mb":40.5,"LDU":0.004},{"Breed":"BRO","Mb":41,"LDU":0.017},{"Breed":"BRO","Mb":41.5,"LDU":0.0035},{"Breed":"BRO","Mb":42,"LDU":0.01},{"Breed":"BRO","Mb":42.5,"LDU":0.0045},{"Breed":"BRO","Mb":43,"LDU":0.012},{"Breed":"BRO","Mb":43.5,"LDU":0.015},{"Breed":"BRO","Mb":44,"LDU":0.003},{"Breed":"BRO","Mb":44.5,"LDU":0.0095},{"Breed":"BRO","Mb":45,"LDU":0.004},
{"Breed":"BRO","Mb":45.5,"LDU":0.011},{"Breed":"BRO","Mb":46,"LDU":0.003},{"Breed":"BRO","Mb":46.5,"LDU":0.013},{"Breed":"BRO","Mb":47,"LDU":0.005},{"Breed":"BRO","Mb":47.5,"LDU":0.009},{"Breed":"BRO","Mb":48,"LDU":0.0035},{"Breed":"BRO","Mb":48.5,"LDU":0.0185},{"Breed":"BRO","Mb":49,"LDU":0.004},{"Breed":"BRO","Mb":49.5,"LDU":0.008},{"Breed":"BRO","Mb":50,"LDU":0.003},
{"Breed":"BRO","Mb":50.5,"LDU":0.006},{"Breed":"BRO","Mb":51,"LDU":0.0015},{"Breed":"BRO","Mb":51.5,"LDU":0.0002},{"Breed":"BRO","Mb":52,"LDU":0.0001},{"Breed":"BRO","Mb":52.5,"LDU":0.0001},{"Breed":"BRO","Mb":53,"LDU":0.0001},{"Breed":"BRO","Mb":53.5,"LDU":0.0002},{"Breed":"BRO","Mb":54,"LDU":0.001},{"Breed":"BRO","Mb":54.5,"LDU":0.006},{"Breed":"BRO","Mb":55,"LDU":0.0025},
{"Breed":"BRO","Mb":55.5,"LDU":0.008},{"Breed":"BRO","Mb":56,"LDU":0.013},{"Breed":"BRO","Mb":56.5,"LDU":0.003},{"Breed":"BRO","Mb":57,"LDU":0.01},{"Breed":"BRO","Mb":57.5,"LDU":0.004},{"Breed":"BRO","Mb":58,"LDU":0.009},{"Breed":"BRO","Mb":58.5,"LDU":0.0025},{"Breed":"BRO","Mb":59,"LDU":0.011},{"Breed":"BRO","Mb":59.5,"LDU":0.0035},{"Breed":"BRO","Mb":60,"LDU":0.0085},
{"Breed":"BRO","Mb":60.5,"LDU":0.003},{"Breed":"BRO","Mb":61,"LDU":0.01},{"Breed":"BRO","Mb":61.5,"LDU":0.004},{"Breed":"BRO","Mb":62,"LDU":0.013},{"Breed":"BRO","Mb":62.5,"LDU":0.0035},{"Breed":"BRO","Mb":63,"LDU":0.011},{"Breed":"BRO","Mb":63.5,"LDU":0.015},{"Breed":"BRO","Mb":64,"LDU":0.004},{"Breed":"BRO","Mb":64.5,"LDU":0.016},{"Breed":"BRO","Mb":65,"LDU":0.005},
{"Breed":"BRO","Mb":65.5,"LDU":0.012},{"Breed":"BRO","Mb":66,"LDU":0.003},{"Breed":"BRO","Mb":66.5,"LDU":0.0095},{"Breed":"BRO","Mb":67,"LDU":0.0045},{"Breed":"BRO","Mb":67.5,"LDU":0.011},{"Breed":"BRO","Mb":68,"LDU":0.014},{"Breed":"BRO","Mb":68.5,"LDU":0.003},{"Breed":"BRO","Mb":69,"LDU":0.009},{"Breed":"BRO","Mb":69.5,"LDU":0.0025},{"Breed":"BRO","Mb":70,"LDU":0.007},
{"Breed":"BRO","Mb":70.5,"LDU":0.003},{"Breed":"BRO","Mb":71,"LDU":0.008},{"Breed":"BRO","Mb":71.5,"LDU":0.002},{"Breed":"BRO","Mb":72,"LDU":0.006},{"Breed":"BRO","Mb":72.5,"LDU":0.0015},{"Breed":"BRO","Mb":73,"LDU":0.009},{"Breed":"BRO","Mb":73.5,"LDU":0.003},{"Breed":"BRO","Mb":74,"LDU":0.017},{"Breed":"BRO","Mb":74.5,"LDU":0.004},{"Breed":"BRO","Mb":75,"LDU":0.008},
{"Breed":"BRO","Mb":75.5,"LDU":0.0025},{"Breed":"BRO","Mb":76,"LDU":0.007},{"Breed":"BRO","Mb":76.2,"LDU":0.004},{"Breed":"BRO","Mb":76.3,"LDU":0.038},{"Breed":"BRO","Mb":76.4,"LDU":0.004},{"Breed":"BRO","Mb":76.5,"LDU":0.004},{"Breed":"BRO","Mb":77,"LDU":0.006},{"Breed":"BRO","Mb":77.5,"LDU":0.002},{"Breed":"BRO","Mb":78,"LDU":0.008},{"Breed":"BRO","Mb":78.5,"LDU":0.003},{"Breed":"BRO","Mb":79,"LDU":0.006},{"Breed":"BRO","Mb":79.5,"LDU":0.0025},{"Breed":"BRO","Mb":80,"LDU":0.009},
{"Breed":"BRO","Mb":80.5,"LDU":0.004},{"Breed":"BRO","Mb":81,"LDU":0.01},{"Breed":"BRO","Mb":81.5,"LDU":0.003},{"Breed":"BRO","Mb":82,"LDU":0.012},{"Breed":"BRO","Mb":82.5,"LDU":0.002},{"Breed":"BRO","Mb":83,"LDU":0.009},{"Breed":"BRO","Mb":83.5,"LDU":0.004},{"Breed":"BRO","Mb":84,"LDU":0.011},{"Breed":"BRO","Mb":84.5,"LDU":0.0205},{"Breed":"BRO","Mb":85,"LDU":0.005},
{"Breed":"BRO","Mb":85.5,"LDU":0.013},{"Breed":"BRO","Mb":86,"LDU":0.004},{"Breed":"BRO","Mb":86.5,"LDU":0.0175},{"Breed":"BRO","Mb":87,"LDU":0.0035},{"Breed":"BRO","Mb":87.5,"LDU":0.011},{"Breed":"BRO","Mb":88,"LDU":0.016},{"Breed":"BRO","Mb":88.5,"LDU":0.003},{"Breed":"BRO","Mb":89,"LDU":0.01},{"Breed":"BRO","Mb":89.5,"LDU":0.004},{"Breed":"BRO","Mb":90,"LDU":0.009},
{"Breed":"BRO","Mb":90.5,"LDU":0.003},{"Breed":"BRO","Mb":91,"LDU":0.0085},{"Breed":"BRO","Mb":91.5,"LDU":0.014},{"Breed":"BRO","Mb":92,"LDU":0.003},{"Breed":"BRO","Mb":92.5,"LDU":0.007},{"Breed":"BRO","Mb":93,"LDU":0.0025},{"Breed":"BRO","Mb":93.5,"LDU":0.009},{"Breed":"BRO","Mb":94,"LDU":0.0035},{"Breed":"BRO","Mb":94.5,"LDU":0.006},{"Breed":"BRO","Mb":95,"LDU":0.002},
{"Breed":"BRO","Mb":95.5,"LDU":0.008},{"Breed":"BRO","Mb":96,"LDU":0.003},{"Breed":"BRO","Mb":96.5,"LDU":0.01},{"Breed":"BRO","Mb":97,"LDU":0.004},{"Breed":"BRO","Mb":97.5,"LDU":0.014},{"Breed":"BRO","Mb":98,"LDU":0.0035},{"Breed":"BRO","Mb":98.5,"LDU":0.009},{"Breed":"BRO","Mb":99,"LDU":0.0025},{"Breed":"BRO","Mb":99.5,"LDU":0.008},{"Breed":"BRO","Mb":100,"LDU":0.003},
{"Breed":"BRO","Mb":100.5,"LDU":0.011},{"Breed":"BRO","Mb":101,"LDU":0.004},{"Breed":"BRO","Mb":101.5,"LDU":0.0185},{"Breed":"BRO","Mb":102,"LDU":0.005},{"Breed":"BRO","Mb":102.5,"LDU":0.01},{"Breed":"BRO","Mb":103,"LDU":0.0035},{"Breed":"BRO","Mb":103.5,"LDU":0.017},{"Breed":"BRO","Mb":104,"LDU":0.0045},{"Breed":"BRO","Mb":104.5,"LDU":0.009},{"Breed":"BRO","Mb":105,"LDU":0.003},
{"Breed":"BRO","Mb":105.5,"LDU":0.011},{"Breed":"BRO","Mb":106,"LDU":0.0035},{"Breed":"BRO","Mb":106.5,"LDU":0.0095},{"Breed":"BRO","Mb":107,"LDU":0.004},{"Breed":"BRO","Mb":107.5,"LDU":0.014},{"Breed":"BRO","Mb":108,"LDU":0.0045},{"Breed":"BRO","Mb":108.5,"LDU":0.012},{"Breed":"BRO","Mb":109,"LDU":0.003},{"Breed":"BRO","Mb":109.5,"LDU":0.01},{"Breed":"BRO","Mb":110,"LDU":0.004},
{"Breed":"BRO","Mb":110.5,"LDU":0.009},{"Breed":"BRO","Mb":111,"LDU":0.0035},{"Breed":"BRO","Mb":111.5,"LDU":0.016},{"Breed":"BRO","Mb":112,"LDU":0.0045},{"Breed":"BRO","Mb":112.5,"LDU":0.011},{"Breed":"BRO","Mb":113,"LDU":0.003},{"Breed":"BRO","Mb":113.5,"LDU":0.0095},{"Breed":"BRO","Mb":114,"LDU":0.004},{"Breed":"BRO","Mb":114.5,"LDU":0.01},{"Breed":"BRO","Mb":115,"LDU":0.0035},
{"Breed":"BRO","Mb":115.5,"LDU":0.009},{"Breed":"BRO","Mb":116,"LDU":0.004},{"Breed":"BRO","Mb":116.5,"LDU":0.012},{"Breed":"BRO","Mb":117,"LDU":0.005},{"Breed":"BRO","Mb":117.5,"LDU":0.0095},{"Breed":"BRO","Mb":117.9,"LDU":0.004},{"Breed":"BRO","Mb":118,"LDU":0.024},{"Breed":"BRO","Mb":118.1,"LDU":0.004},{"Breed":"BRO","Mb":118.5,"LDU":0.004},{"Breed":"BRO","Mb":119,"LDU":0.011},{"Breed":"BRO","Mb":119.5,"LDU":0.003},{"Breed":"BRO","Mb":120,"LDU":0.008},
{"Breed":"BRO","Mb":120.5,"LDU":0.004},{"Breed":"BRO","Mb":121,"LDU":0.013},{"Breed":"BRO","Mb":121.5,"LDU":0.003},{"Breed":"BRO","Mb":122,"LDU":0.008},{"Breed":"BRO","Mb":122.5,"LDU":0.0025},{"Breed":"BRO","Mb":123,"LDU":0.01},{"Breed":"BRO","Mb":123.5,"LDU":0.004},{"Breed":"BRO","Mb":124,"LDU":0.009},{"Breed":"BRO","Mb":124.5,"LDU":0.0035},{"Breed":"BRO","Mb":125,"LDU":0.011},
{"Breed":"BRO","Mb":125.5,"LDU":0.0215},{"Breed":"BRO","Mb":126,"LDU":0.005},{"Breed":"BRO","Mb":126.5,"LDU":0.012},{"Breed":"BRO","Mb":127,"LDU":0.003},{"Breed":"BRO","Mb":127.5,"LDU":0.009},{"Breed":"BRO","Mb":128,"LDU":0.0025},{"Breed":"BRO","Mb":128.5,"LDU":0.007},{"Breed":"BRO","Mb":129,"LDU":0.002},{"Breed":"BRO","Mb":129.5,"LDU":0.006},{"Breed":"BRO","Mb":130,"LDU":0.0025},
{"Breed":"BRO","Mb":130.5,"LDU":0.007},{"Breed":"BRO","Mb":131,"LDU":0.002},{"Breed":"BRO","Mb":131.5,"LDU":0.006},{"Breed":"BRO","Mb":132,"LDU":0.016},{"Breed":"BRO","Mb":132.5,"LDU":0.0025},{"Breed":"BRO","Mb":133,"LDU":0.008},{"Breed":"BRO","Mb":133.5,"LDU":0.002},{"Breed":"BRO","Mb":134,"LDU":0.015},{"Breed":"BRO","Mb":134.5,"LDU":0.003},{"Breed":"BRO","Mb":135,"LDU":0.007},
{"Breed":"BRO","Mb":135.5,"LDU":0.002},{"Breed":"BRO","Mb":136,"LDU":0.009},{"Breed":"BRO","Mb":136.5,"LDU":0.0025},{"Breed":"BRO","Mb":137,"LDU":0.006},{"Breed":"BRO","Mb":137.5,"LDU":0.0145},{"Breed":"BRO","Mb":138,"LDU":0.003},{"Breed":"BRO","Mb":138.5,"LDU":0.008},{"Breed":"BRO","Mb":139,"LDU":0.002},{"Breed":"BRO","Mb":139.5,"LDU":0.007},{"Breed":"BRO","Mb":140,"LDU":0.0025},
{"Breed":"BRO","Mb":140.5,"LDU":0.014},{"Breed":"BRO","Mb":141,"LDU":0.003},{"Breed":"BRO","Mb":141.5,"LDU":0.009},{"Breed":"BRO","Mb":142,"LDU":0.002},{"Breed":"BRO","Mb":142.5,"LDU":0.007},{"Breed":"BRO","Mb":143,"LDU":0.0115},{"Breed":"BRO","Mb":143.5,"LDU":0.0025},{"Breed":"BRO","Mb":144,"LDU":0.008},{"Breed":"BRO","Mb":144.5,"LDU":0.002},{"Breed":"BRO","Mb":145,"LDU":0.0065},
{"Breed":"BRO","Mb":145.5,"LDU":0.002},{"Breed":"BRO","Mb":146,"LDU":0.01},{"Breed":"BRO","Mb":146.5,"LDU":0.003},{"Breed":"BRO","Mb":147,"LDU":0.007},{"Breed":"BRO","Mb":147.5,"LDU":0.002},{"Breed":"BRO","Mb":148,"LDU":0.006},{"Breed":"BRO","Mb":148.3,"LDU":0.009},{"Breed":"BRO","Mb":148.6,"LDU":0.002},
{"Breed":"BRO","Mb":0.75,"LDU":0.001},{"Breed":"BRO","Mb":1.25,"LDU":0.0035},{"Breed":"BRO","Mb":1.75,"LDU":0.0015},{"Breed":"BRO","Mb":2.25,"LDU":0.004},{"Breed":"BRO","Mb":2.75,"LDU":0.001},{"Breed":"BRO","Mb":3.25,"LDU":0.0035},{"Breed":"BRO","Mb":3.75,"LDU":0.002},{"Breed":"BRO","Mb":4.25,"LDU":0.004},{"Breed":"BRO","Mb":4.75,"LDU":0.0015},{"Breed":"BRO","Mb":5.25,"LDU":0.0035},
{"Breed":"BRO","Mb":5.75,"LDU":0.001},{"Breed":"BRO","Mb":6.25,"LDU":0.004},{"Breed":"BRO","Mb":6.75,"LDU":0.002},{"Breed":"BRO","Mb":7.25,"LDU":0.0035},{"Breed":"BRO","Mb":7.75,"LDU":0.001},{"Breed":"BRO","Mb":8.25,"LDU":0.004},{"Breed":"BRO","Mb":8.75,"LDU":0.0015},{"Breed":"BRO","Mb":9.25,"LDU":0.0035},{"Breed":"BRO","Mb":9.75,"LDU":0.001},{"Breed":"BRO","Mb":10.25,"LDU":0.004},
{"Breed":"BRO","Mb":10.75,"LDU":0.002},{"Breed":"BRO","Mb":11.25,"LDU":0.0035},{"Breed":"BRO","Mb":11.75,"LDU":0.001},{"Breed":"BRO","Mb":12.25,"LDU":0.004},{"Breed":"BRO","Mb":12.75,"LDU":0.0015},{"Breed":"BRO","Mb":13.25,"LDU":0.0035},{"Breed":"BRO","Mb":13.75,"LDU":0.001},{"Breed":"BRO","Mb":14.25,"LDU":0.004},{"Breed":"BRO","Mb":14.75,"LDU":0.002},{"Breed":"BRO","Mb":15.25,"LDU":0.0035},
{"Breed":"BRO","Mb":15.75,"LDU":0.001},{"Breed":"BRO","Mb":16.25,"LDU":0.004},{"Breed":"BRO","Mb":16.75,"LDU":0.0015},{"Breed":"BRO","Mb":17.25,"LDU":0.0035},{"Breed":"BRO","Mb":17.75,"LDU":0.001},{"Breed":"BRO","Mb":18.25,"LDU":0.004},{"Breed":"BRO","Mb":18.75,"LDU":0.0015},{"Breed":"BRO","Mb":19.25,"LDU":0.003},{"Breed":"BRO","Mb":19.75,"LDU":0.001},{"Breed":"BRO","Mb":20.25,"LDU":0.003},
{"Breed":"BRO","Mb":20.75,"LDU":0.001},{"Breed":"BRO","Mb":21.25,"LDU":0.003},{"Breed":"BRO","Mb":21.75,"LDU":0.0015},{"Breed":"BRO","Mb":22.25,"LDU":0.0035},{"Breed":"BRO","Mb":22.75,"LDU":0.001},{"Breed":"BRO","Mb":23.25,"LDU":0.003},{"Breed":"BRO","Mb":23.75,"LDU":0.0015},{"Breed":"BRO","Mb":24.25,"LDU":0.0035},{"Breed":"BRO","Mb":24.75,"LDU":0.001},{"Breed":"BRO","Mb":25.25,"LDU":0.003},
{"Breed":"BRO","Mb":25.75,"LDU":0.0005},{"Breed":"BRO","Mb":26.25,"LDU":0.0025},{"Breed":"BRO","Mb":26.75,"LDU":0.001},{"Breed":"BRO","Mb":27.25,"LDU":0.003},{"Breed":"BRO","Mb":27.75,"LDU":0.001},{"Breed":"BRO","Mb":28.25,"LDU":0.003},{"Breed":"BRO","Mb":29.25,"LDU":0.003},{"Breed":"BRO","Mb":29.75,"LDU":0.001},{"Breed":"BRO","Mb":30.25,"LDU":0.0035},
{"Breed":"BRO","Mb":30.75,"LDU":0.0015},{"Breed":"BRO","Mb":31.25,"LDU":0.004},{"Breed":"BRO","Mb":31.75,"LDU":0.001},{"Breed":"BRO","Mb":32.25,"LDU":0.0035},{"Breed":"BRO","Mb":32.75,"LDU":0.0015},{"Breed":"BRO","Mb":33.25,"LDU":0.004},{"Breed":"BRO","Mb":33.75,"LDU":0.001},{"Breed":"BRO","Mb":34.25,"LDU":0.0035},{"Breed":"BRO","Mb":34.75,"LDU":0.0015},{"Breed":"BRO","Mb":35.25,"LDU":0.004},
{"Breed":"BRO","Mb":35.75,"LDU":0.001},{"Breed":"BRO","Mb":36.25,"LDU":0.0035},{"Breed":"BRO","Mb":36.75,"LDU":0.0015},{"Breed":"BRO","Mb":37.25,"LDU":0.004},{"Breed":"BRO","Mb":37.75,"LDU":0.001},{"Breed":"BRO","Mb":38.25,"LDU":0.0035},{"Breed":"BRO","Mb":38.75,"LDU":0.0015},{"Breed":"BRO","Mb":39.25,"LDU":0.004},{"Breed":"BRO","Mb":39.75,"LDU":0.001},{"Breed":"BRO","Mb":40.25,"LDU":0.0035},
{"Breed":"BRO","Mb":40.75,"LDU":0.0015},{"Breed":"BRO","Mb":41.25,"LDU":0.004},{"Breed":"BRO","Mb":41.75,"LDU":0.001},{"Breed":"BRO","Mb":42.25,"LDU":0.0035},{"Breed":"BRO","Mb":42.75,"LDU":0.0015},{"Breed":"BRO","Mb":43.25,"LDU":0.004},{"Breed":"BRO","Mb":43.75,"LDU":0.001},{"Breed":"BRO","Mb":44.25,"LDU":0.0035},{"Breed":"BRO","Mb":44.75,"LDU":0.0015},{"Breed":"BRO","Mb":45.25,"LDU":0.004},
{"Breed":"BRO","Mb":45.75,"LDU":0.001},{"Breed":"BRO","Mb":46.25,"LDU":0.0035},{"Breed":"BRO","Mb":46.75,"LDU":0.0015},{"Breed":"BRO","Mb":47.25,"LDU":0.004},{"Breed":"BRO","Mb":47.75,"LDU":0.001},{"Breed":"BRO","Mb":48.25,"LDU":0.0035},{"Breed":"BRO","Mb":48.75,"LDU":0.0015},{"Breed":"BRO","Mb":49.25,"LDU":0.003},{"Breed":"BRO","Mb":49.75,"LDU":0.001},{"Breed":"BRO","Mb":50.25,"LDU":0.0025},
{"Breed":"BRO","Mb":50.75,"LDU":0.001},{"Breed":"BRO","Mb":54.75,"LDU":0.002},{"Breed":"BRO","Mb":55.25,"LDU":0.0035},
{"Breed":"BRO","Mb":55.75,"LDU":0.0015},{"Breed":"BRO","Mb":56.25,"LDU":0.004},{"Breed":"BRO","Mb":56.75,"LDU":0.001},{"Breed":"BRO","Mb":57.25,"LDU":0.0035},{"Breed":"BRO","Mb":57.75,"LDU":0.0015},{"Breed":"BRO","Mb":58.25,"LDU":0.004},{"Breed":"BRO","Mb":58.75,"LDU":0.001},{"Breed":"BRO","Mb":59.25,"LDU":0.0035},{"Breed":"BRO","Mb":59.75,"LDU":0.0015},{"Breed":"BRO","Mb":60.25,"LDU":0.004},
{"Breed":"BRO","Mb":60.75,"LDU":0.001},{"Breed":"BRO","Mb":61.25,"LDU":0.0035},{"Breed":"BRO","Mb":61.75,"LDU":0.0015},{"Breed":"BRO","Mb":62.25,"LDU":0.004},{"Breed":"BRO","Mb":62.75,"LDU":0.001},{"Breed":"BRO","Mb":63.25,"LDU":0.0035},{"Breed":"BRO","Mb":63.75,"LDU":0.0015},{"Breed":"BRO","Mb":64.25,"LDU":0.004},{"Breed":"BRO","Mb":64.75,"LDU":0.001},{"Breed":"BRO","Mb":65.25,"LDU":0.0035},
{"Breed":"BRO","Mb":65.75,"LDU":0.0015},{"Breed":"BRO","Mb":66.25,"LDU":0.004},{"Breed":"BRO","Mb":66.75,"LDU":0.001},{"Breed":"BRO","Mb":67.25,"LDU":0.0035},{"Breed":"BRO","Mb":67.75,"LDU":0.0015},{"Breed":"BRO","Mb":68.25,"LDU":0.004},{"Breed":"BRO","Mb":68.75,"LDU":0.001},{"Breed":"BRO","Mb":69.25,"LDU":0.0035},{"Breed":"BRO","Mb":69.75,"LDU":0.001},{"Breed":"BRO","Mb":70.25,"LDU":0.003},
{"Breed":"BRO","Mb":70.75,"LDU":0.001},{"Breed":"BRO","Mb":71.25,"LDU":0.003},{"Breed":"BRO","Mb":71.75,"LDU":0.0005},{"Breed":"BRO","Mb":72.25,"LDU":0.0025},{"Breed":"BRO","Mb":72.75,"LDU":0.001},{"Breed":"BRO","Mb":73.25,"LDU":0.003},{"Breed":"BRO","Mb":73.75,"LDU":0.001},{"Breed":"BRO","Mb":74.25,"LDU":0.0035},{"Breed":"BRO","Mb":74.75,"LDU":0.001},{"Breed":"BRO","Mb":75.25,"LDU":0.003},
{"Breed":"BRO","Mb":75.75,"LDU":0.001},{"Breed":"BRO","Mb":76.75,"LDU":0.003},{"Breed":"BRO","Mb":77.25,"LDU":0.001},{"Breed":"BRO","Mb":77.75,"LDU":0.003},{"Breed":"BRO","Mb":78.25,"LDU":0.001},{"Breed":"BRO","Mb":78.75,"LDU":0.003},{"Breed":"BRO","Mb":79.25,"LDU":0.001},{"Breed":"BRO","Mb":79.75,"LDU":0.003},{"Breed":"BRO","Mb":80.25,"LDU":0.0015},
{"Breed":"BRO","Mb":80.75,"LDU":0.0035},{"Breed":"BRO","Mb":81.25,"LDU":0.001},{"Breed":"BRO","Mb":81.75,"LDU":0.0035},{"Breed":"BRO","Mb":82.25,"LDU":0.0015},{"Breed":"BRO","Mb":82.75,"LDU":0.0035},{"Breed":"BRO","Mb":83.25,"LDU":0.001},{"Breed":"BRO","Mb":83.75,"LDU":0.0035},{"Breed":"BRO","Mb":84.25,"LDU":0.0015},{"Breed":"BRO","Mb":84.75,"LDU":0.004},{"Breed":"BRO","Mb":85.25,"LDU":0.001},
{"Breed":"BRO","Mb":85.75,"LDU":0.0035},{"Breed":"BRO","Mb":86.25,"LDU":0.0015},{"Breed":"BRO","Mb":86.75,"LDU":0.004},{"Breed":"BRO","Mb":87.25,"LDU":0.001},{"Breed":"BRO","Mb":87.75,"LDU":0.0035},{"Breed":"BRO","Mb":88.25,"LDU":0.0015},{"Breed":"BRO","Mb":88.75,"LDU":0.004},{"Breed":"BRO","Mb":89.25,"LDU":0.001},{"Breed":"BRO","Mb":89.75,"LDU":0.0035},{"Breed":"BRO","Mb":90.25,"LDU":0.0015},
{"Breed":"BRO","Mb":90.75,"LDU":0.0035},{"Breed":"BRO","Mb":91.25,"LDU":0.001},{"Breed":"BRO","Mb":91.75,"LDU":0.0035},{"Breed":"BRO","Mb":92.25,"LDU":0.001},{"Breed":"BRO","Mb":92.75,"LDU":0.003},{"Breed":"BRO","Mb":93.25,"LDU":0.001},{"Breed":"BRO","Mb":93.75,"LDU":0.003},{"Breed":"BRO","Mb":94.25,"LDU":0.001},{"Breed":"BRO","Mb":94.75,"LDU":0.003},{"Breed":"BRO","Mb":95.25,"LDU":0.001},
{"Breed":"BRO","Mb":95.75,"LDU":0.0035},{"Breed":"BRO","Mb":96.25,"LDU":0.001},{"Breed":"BRO","Mb":96.75,"LDU":0.0035},{"Breed":"BRO","Mb":97.25,"LDU":0.0015},{"Breed":"BRO","Mb":97.75,"LDU":0.004},{"Breed":"BRO","Mb":98.25,"LDU":0.001},{"Breed":"BRO","Mb":98.75,"LDU":0.0035},{"Breed":"BRO","Mb":99.25,"LDU":0.001},{"Breed":"BRO","Mb":99.75,"LDU":0.0035},{"Breed":"BRO","Mb":100.25,"LDU":0.0015},
{"Breed":"BRO","Mb":100.75,"LDU":0.004},{"Breed":"BRO","Mb":101.25,"LDU":0.001},{"Breed":"BRO","Mb":101.75,"LDU":0.0035},{"Breed":"BRO","Mb":102.25,"LDU":0.0015},{"Breed":"BRO","Mb":102.75,"LDU":0.004},{"Breed":"BRO","Mb":103.25,"LDU":0.001},{"Breed":"BRO","Mb":103.75,"LDU":0.0035},{"Breed":"BRO","Mb":104.25,"LDU":0.0015},{"Breed":"BRO","Mb":104.75,"LDU":0.004},{"Breed":"BRO","Mb":105.25,"LDU":0.001},
{"Breed":"BRO","Mb":105.75,"LDU":0.0035},{"Breed":"BRO","Mb":106.25,"LDU":0.0015},{"Breed":"BRO","Mb":106.75,"LDU":0.004},{"Breed":"BRO","Mb":107.25,"LDU":0.001},{"Breed":"BRO","Mb":107.75,"LDU":0.0035},{"Breed":"BRO","Mb":108.25,"LDU":0.0015},{"Breed":"BRO","Mb":108.75,"LDU":0.004},{"Breed":"BRO","Mb":109.25,"LDU":0.001},{"Breed":"BRO","Mb":109.75,"LDU":0.0035},{"Breed":"BRO","Mb":110.25,"LDU":0.0015},
{"Breed":"BRO","Mb":110.75,"LDU":0.004},{"Breed":"BRO","Mb":111.25,"LDU":0.001},{"Breed":"BRO","Mb":111.75,"LDU":0.0035},{"Breed":"BRO","Mb":112.25,"LDU":0.0015},{"Breed":"BRO","Mb":112.75,"LDU":0.004},{"Breed":"BRO","Mb":113.25,"LDU":0.001},{"Breed":"BRO","Mb":113.75,"LDU":0.0035},{"Breed":"BRO","Mb":114.25,"LDU":0.0015},{"Breed":"BRO","Mb":114.75,"LDU":0.004},{"Breed":"BRO","Mb":115.25,"LDU":0.001},
{"Breed":"BRO","Mb":115.75,"LDU":0.0035},{"Breed":"BRO","Mb":116.25,"LDU":0.0015},{"Breed":"BRO","Mb":116.75,"LDU":0.004},{"Breed":"BRO","Mb":117.25,"LDU":0.001},{"Breed":"BRO","Mb":117.75,"LDU":0.0035},{"Breed":"BRO","Mb":118.75,"LDU":0.004},{"Breed":"BRO","Mb":119.25,"LDU":0.001},{"Breed":"BRO","Mb":119.75,"LDU":0.0035},{"Breed":"BRO","Mb":120.25,"LDU":0.0015},
{"Breed":"BRO","Mb":120.75,"LDU":0.0035},{"Breed":"BRO","Mb":121.25,"LDU":0.001},{"Breed":"BRO","Mb":121.75,"LDU":0.0035},{"Breed":"BRO","Mb":122.25,"LDU":0.001},{"Breed":"BRO","Mb":122.75,"LDU":0.0035},{"Breed":"BRO","Mb":123.25,"LDU":0.0015},{"Breed":"BRO","Mb":123.75,"LDU":0.0035},{"Breed":"BRO","Mb":124.25,"LDU":0.001},{"Breed":"BRO","Mb":124.75,"LDU":0.004},{"Breed":"BRO","Mb":125.25,"LDU":0.0015},
{"Breed":"BRO","Mb":125.75,"LDU":0.0035},{"Breed":"BRO","Mb":126.25,"LDU":0.001},{"Breed":"BRO","Mb":126.75,"LDU":0.0035},{"Breed":"BRO","Mb":127.25,"LDU":0.001},{"Breed":"BRO","Mb":127.75,"LDU":0.003},{"Breed":"BRO","Mb":128.25,"LDU":0.001},{"Breed":"BRO","Mb":128.75,"LDU":0.003},{"Breed":"BRO","Mb":129.25,"LDU":0.0005},{"Breed":"BRO","Mb":129.75,"LDU":0.0025},{"Breed":"BRO","Mb":130.25,"LDU":0.001},
{"Breed":"BRO","Mb":130.75,"LDU":0.003},{"Breed":"BRO","Mb":131.25,"LDU":0.0005},{"Breed":"BRO","Mb":131.75,"LDU":0.0025},{"Breed":"BRO","Mb":132.25,"LDU":0.001},{"Breed":"BRO","Mb":132.75,"LDU":0.003},{"Breed":"BRO","Mb":133.25,"LDU":0.0005},{"Breed":"BRO","Mb":133.75,"LDU":0.0025},{"Breed":"BRO","Mb":134.25,"LDU":0.001},{"Breed":"BRO","Mb":134.75,"LDU":0.003},{"Breed":"BRO","Mb":135.25,"LDU":0.0005},
{"Breed":"BRO","Mb":135.75,"LDU":0.0025},{"Breed":"BRO","Mb":136.25,"LDU":0.001},{"Breed":"BRO","Mb":136.75,"LDU":0.003},{"Breed":"BRO","Mb":137.25,"LDU":0.0005},{"Breed":"BRO","Mb":137.75,"LDU":0.0025},{"Breed":"BRO","Mb":138.25,"LDU":0.001},{"Breed":"BRO","Mb":138.75,"LDU":0.003},{"Breed":"BRO","Mb":139.25,"LDU":0.0005},{"Breed":"BRO","Mb":139.75,"LDU":0.0025},{"Breed":"BRO","Mb":140.25,"LDU":0.001},
{"Breed":"BRO","Mb":140.75,"LDU":0.003},{"Breed":"BRO","Mb":141.25,"LDU":0.0005},{"Breed":"BRO","Mb":141.75,"LDU":0.0025},{"Breed":"BRO","Mb":142.25,"LDU":0.001},{"Breed":"BRO","Mb":142.75,"LDU":0.003},{"Breed":"BRO","Mb":143.25,"LDU":0.0005},{"Breed":"BRO","Mb":143.75,"LDU":0.0025},{"Breed":"BRO","Mb":144.25,"LDU":0.001},{"Breed":"BRO","Mb":144.75,"LDU":0.003},{"Breed":"BRO","Mb":145.25,"LDU":0.0005},
{"Breed":"BRO","Mb":145.75,"LDU":0.0025},{"Breed":"BRO","Mb":146.25,"LDU":0.001},{"Breed":"BRO","Mb":146.75,"LDU":0.003},{"Breed":"BRO","Mb":147.25,"LDU":0.0005},{"Breed":"BRO","Mb":147.75,"LDU":0.0025},{"Breed":"BRO","Mb":148.15,"LDU":0.001},{"Breed":"BRO","Mb":148.45,"LDU":0.003},
{"Breed":"WEL","Mb":0.2,"LDU":0},{"Breed":"WEL","Mb":0.5,"LDU":0},{"Breed":"WEL","Mb":0.8,"LDU":0.0002},{"Breed":"WEL","Mb":1,"LDU":0.0115},{"Breed":"WEL","Mb":1.3,"LDU":0.0005},{"Breed":"WEL","Mb":1.5,"LDU":0.003},{"Breed":"WEL","Mb":1.7,"LDU":0.003},{"Breed":"WEL","Mb":1.8,"LDU":0.0336},{"Breed":"WEL","Mb":1.9,"LDU":0.002},{"Breed":"WEL","Mb":2.1,"LDU":0.002},{"Breed":"WEL","Mb":2.5,"LDU":0.0107},{"Breed":"WEL","Mb":3,"LDU":0.001},{"Breed":"WEL","Mb":3.5,"LDU":0.005},{"Breed":"WEL","Mb":4,"LDU":0.007},{"Breed":"WEL","Mb":4.5,"LDU":0.002},{"Breed":"WEL","Mb":4.7,"LDU":0.0116},{"Breed":"WEL","Mb":5,"LDU":0.003},
{"Breed":"WEL","Mb":5.5,"LDU":0.008},{"Breed":"WEL","Mb":6,"LDU":0.0025},{"Breed":"WEL","Mb":6.3,"LDU":0.0116},{"Breed":"WEL","Mb":6.7,"LDU":0.004},{"Breed":"WEL","Mb":7,"LDU":0.006},{"Breed":"WEL","Mb":7.5,"LDU":0.0015},{"Breed":"WEL","Mb":7.8,"LDU":0.019},{"Breed":"WEL","Mb":8.1,"LDU":0.002},{"Breed":"WEL","Mb":8.7,"LDU":0.0107},{"Breed":"WEL","Mb":9,"LDU":0.003},{"Breed":"WEL","Mb":9.5,"LDU":0.0055},{"Breed":"WEL","Mb":10,"LDU":0.0025},
{"Breed":"WEL","Mb":10.5,"LDU":0.006},{"Breed":"WEL","Mb":11,"LDU":0.002},{"Breed":"WEL","Mb":11.7,"LDU":0.0116},{"Breed":"WEL","Mb":12,"LDU":0.004},{"Breed":"WEL","Mb":12.6,"LDU":0.007},{"Breed":"WEL","Mb":13,"LDU":0.0005},{"Breed":"WEL","Mb":13.5,"LDU":0.0008},{"Breed":"WEL","Mb":14,"LDU":0.001},{"Breed":"WEL","Mb":14.5,"LDU":0.001},{"Breed":"WEL","Mb":15,"LDU":0.0012},
{"Breed":"WEL","Mb":15.5,"LDU":0.002},{"Breed":"WEL","Mb":16,"LDU":0.005},{"Breed":"WEL","Mb":16.3,"LDU":0.0097},{"Breed":"WEL","Mb":16.6,"LDU":0.003},{"Breed":"WEL","Mb":17,"LDU":0.006},{"Breed":"WEL","Mb":17.5,"LDU":0.002},{"Breed":"WEL","Mb":17.9,"LDU":0.003},{"Breed":"WEL","Mb":18,"LDU":0.038},{"Breed":"WEL","Mb":18.1,"LDU":0.0025},{"Breed":"WEL","Mb":18.7,"LDU":0.004},{"Breed":"WEL","Mb":19.2,"LDU":0.0005},{"Breed":"WEL","Mb":19.6,"LDU":0.004},{"Breed":"WEL","Mb":20,"LDU":0.0097},{"Breed":"WEL","Mb":20.4,"LDU":0.0015},
{"Breed":"WEL","Mb":20.8,"LDU":0.006},{"Breed":"WEL","Mb":21.3,"LDU":0.016},{"Breed":"WEL","Mb":21.7,"LDU":0.003},{"Breed":"WEL","Mb":22,"LDU":0.005},{"Breed":"WEL","Mb":22.5,"LDU":0.002},{"Breed":"WEL","Mb":23.1,"LDU":0.0144},{"Breed":"WEL","Mb":23.5,"LDU":0.004},{"Breed":"WEL","Mb":24,"LDU":0.007},{"Breed":"WEL","Mb":24.5,"LDU":0.003},{"Breed":"WEL","Mb":25.2,"LDU":0.0166},{"Breed":"WEL","Mb":25.6,"LDU":0.004},
{"Breed":"WEL","Mb":26,"LDU":0.006},{"Breed":"WEL","Mb":26.5,"LDU":0.003},{"Breed":"WEL","Mb":27,"LDU":0.008},{"Breed":"WEL","Mb":27.5,"LDU":0.002},{"Breed":"WEL","Mb":28.3,"LDU":0.0097},{"Breed":"WEL","Mb":28.8,"LDU":0.003},{"Breed":"WEL","Mb":29.3,"LDU":0.006},{"Breed":"WEL","Mb":29.8,"LDU":0.0015},{"Breed":"WEL","Mb":30.3,"LDU":0.005},{"Breed":"WEL","Mb":30.7,"LDU":0.0103},
{"Breed":"WEL","Mb":31.2,"LDU":0.002},{"Breed":"WEL","Mb":31.7,"LDU":0.006},{"Breed":"WEL","Mb":32.2,"LDU":0.003},{"Breed":"WEL","Mb":32.7,"LDU":0.008},{"Breed":"WEL","Mb":33.1,"LDU":0.012},{"Breed":"WEL","Mb":33.5,"LDU":0.004},{"Breed":"WEL","Mb":34.1,"LDU":0.0135},{"Breed":"WEL","Mb":34.5,"LDU":0.003},{"Breed":"WEL","Mb":35,"LDU":0.006},{"Breed":"WEL","Mb":35.3,"LDU":0.007},
{"Breed":"WEL","Mb":35.8,"LDU":0.002},{"Breed":"WEL","Mb":36.3,"LDU":0.005},{"Breed":"WEL","Mb":36.8,"LDU":0.0015},{"Breed":"WEL","Mb":37.3,"LDU":0.003},{"Breed":"WEL","Mb":37.8,"LDU":0.0088},{"Breed":"WEL","Mb":38.3,"LDU":0.002},{"Breed":"WEL","Mb":38.8,"LDU":0.004},{"Breed":"WEL","Mb":39.3,"LDU":0.0005},{"Breed":"WEL","Mb":39.8,"LDU":0.003},{"Breed":"WEL","Mb":40,"LDU":0.008},{"Breed":"WEL","Mb":40.3,"LDU":0.0194},{"Breed":"WEL","Mb":40.6,"LDU":0.005},{"Breed":"WEL","Mb":40.9,"LDU":0.004},{"Breed":"WEL","Mb":41,"LDU":0.0312},{"Breed":"WEL","Mb":41.2,"LDU":0.004},
{"Breed":"WEL","Mb":41.7,"LDU":0.008},{"Breed":"WEL","Mb":42.2,"LDU":0.003},{"Breed":"WEL","Mb":42.7,"LDU":0.006},{"Breed":"WEL","Mb":43.2,"LDU":0.0088},{"Breed":"WEL","Mb":43.6,"LDU":0.004},{"Breed":"WEL","Mb":44.1,"LDU":0.007},{"Breed":"WEL","Mb":44.5,"LDU":0.003},{"Breed":"WEL","Mb":44.8,"LDU":0.0234},{"Breed":"WEL","Mb":45.1,"LDU":0.005},
{"Breed":"WEL","Mb":45.5,"LDU":0.007},{"Breed":"WEL","Mb":46,"LDU":0.003},{"Breed":"WEL","Mb":46.5,"LDU":0.006},{"Breed":"WEL","Mb":47,"LDU":0.002},{"Breed":"WEL","Mb":47.5,"LDU":0.004},{"Breed":"WEL","Mb":48,"LDU":0.0015},{"Breed":"WEL","Mb":48.5,"LDU":0.0097},{"Breed":"WEL","Mb":48.9,"LDU":0.004},{"Breed":"WEL","Mb":49.3,"LDU":0.008},{"Breed":"WEL","Mb":49.8,"LDU":0.003},{"Breed":"WEL","Mb":50.2,"LDU":0.005},{"Breed":"WEL","Mb":50.7,"LDU":0.003},{"Breed":"WEL","Mb":51,"LDU":0.0005},
{"Breed":"WEL","Mb":51.5,"LDU":0},{"Breed":"WEL","Mb":52.5,"LDU":0},{"Breed":"WEL","Mb":53.5,"LDU":0},{"Breed":"WEL","Mb":54.5,"LDU":0},{"Breed":"WEL","Mb":54.8,"LDU":0.0005},{"Breed":"WEL","Mb":55,"LDU":0.0178},{"Breed":"WEL","Mb":55.2,"LDU":0.002},{"Breed":"WEL","Mb":55.4,"LDU":0.0116},{"Breed":"WEL","Mb":55.8,"LDU":0.004},{"Breed":"WEL","Mb":56.2,"LDU":0.006},
{"Breed":"WEL","Mb":56.7,"LDU":0.002},{"Breed":"WEL","Mb":57.2,"LDU":0.005},{"Breed":"WEL","Mb":57.6,"LDU":0.0088},{"Breed":"WEL","Mb":58,"LDU":0.003},{"Breed":"WEL","Mb":58.5,"LDU":0.001},{"Breed":"WEL","Mb":59,"LDU":0.0005},{"Breed":"WEL","Mb":59.5,"LDU":0.004},{"Breed":"WEL","Mb":59.8,"LDU":0.0078},{"Breed":"WEL","Mb":60.3,"LDU":0.002},{"Breed":"WEL","Mb":60.8,"LDU":0.006},
{"Breed":"WEL","Mb":61.2,"LDU":0.012},{"Breed":"WEL","Mb":61.6,"LDU":0.004},{"Breed":"WEL","Mb":62,"LDU":0.008},{"Breed":"WEL","Mb":62.3,"LDU":0.0135},{"Breed":"WEL","Mb":62.7,"LDU":0.005},{"Breed":"WEL","Mb":63.3,"LDU":0.0125},{"Breed":"WEL","Mb":63.7,"LDU":0.003},{"Breed":"WEL","Mb":64.2,"LDU":0.007},{"Breed":"WEL","Mb":64.7,"LDU":0.004},{"Breed":"WEL","Mb":65.2,"LDU":0.008},
{"Breed":"WEL","Mb":65.6,"LDU":0.003},{"Breed":"WEL","Mb":66,"LDU":0.0088},{"Breed":"WEL","Mb":66.4,"LDU":0.002},{"Breed":"WEL","Mb":66.8,"LDU":0.006},{"Breed":"WEL","Mb":67.3,"LDU":0.001},{"Breed":"WEL","Mb":67.8,"LDU":0.004},{"Breed":"WEL","Mb":68.3,"LDU":0.007},{"Breed":"WEL","Mb":68.8,"LDU":0.003},{"Breed":"WEL","Mb":69.2,"LDU":0.015},{"Breed":"WEL","Mb":69.6,"LDU":0.002},{"Breed":"WEL","Mb":70,"LDU":0.005},
{"Breed":"WEL","Mb":70.5,"LDU":0.001},{"Breed":"WEL","Mb":71,"LDU":0.0005},{"Breed":"WEL","Mb":71.5,"LDU":0.002},{"Breed":"WEL","Mb":72,"LDU":0.004},{"Breed":"WEL","Mb":72.5,"LDU":0.0103},{"Breed":"WEL","Mb":72.9,"LDU":0.001},{"Breed":"WEL","Mb":73.3,"LDU":0.0005},{"Breed":"WEL","Mb":73.8,"LDU":0.003},{"Breed":"WEL","Mb":74.3,"LDU":0.0078},{"Breed":"WEL","Mb":74.7,"LDU":0.001},{"Breed":"WEL","Mb":75.2,"LDU":0.005},
{"Breed":"WEL","Mb":75.6,"LDU":0.009},{"Breed":"WEL","Mb":76,"LDU":0.006},{"Breed":"WEL","Mb":76.4,"LDU":0.0148},{"Breed":"WEL","Mb":76.8,"LDU":0.004},{"Breed":"WEL","Mb":77.3,"LDU":0.0107},{"Breed":"WEL","Mb":77.7,"LDU":0.005},{"Breed":"WEL","Mb":78.2,"LDU":0.007},{"Breed":"WEL","Mb":78.7,"LDU":0.003},{"Breed":"WEL","Mb":79.2,"LDU":0.004},{"Breed":"WEL","Mb":79.8,"LDU":0.0065},{"Breed":"WEL","Mb":80.2,"LDU":0.0005},
{"Breed":"WEL","Mb":80.7,"LDU":0.0003},{"Breed":"WEL","Mb":81.5,"LDU":0.0003},{"Breed":"WEL","Mb":82.5,"LDU":0.0005},{"Breed":"WEL","Mb":83.5,"LDU":0.0003},{"Breed":"WEL","Mb":84,"LDU":0.002},{"Breed":"WEL","Mb":84.5,"LDU":0.0003},{"Breed":"WEL","Mb":84.8,"LDU":0.0075},{"Breed":"WEL","Mb":85.2,"LDU":0.004},{"Breed":"WEL","Mb":85.6,"LDU":0.006},
{"Breed":"WEL","Mb":86.1,"LDU":0.0136},{"Breed":"WEL","Mb":86.5,"LDU":0.011},{"Breed":"WEL","Mb":86.9,"LDU":0.003},{"Breed":"WEL","Mb":87.3,"LDU":0.006},{"Breed":"WEL","Mb":87.7,"LDU":0.002},{"Breed":"WEL","Mb":88.2,"LDU":0.0065},{"Breed":"WEL","Mb":88.6,"LDU":0.003},{"Breed":"WEL","Mb":89.2,"LDU":0.0088},{"Breed":"WEL","Mb":89.6,"LDU":0.004},{"Breed":"WEL","Mb":90,"LDU":0.0075},{"Breed":"WEL","Mb":90.4,"LDU":0.002},
{"Breed":"WEL","Mb":90.8,"LDU":0.004},{"Breed":"WEL","Mb":91.3,"LDU":0.0047},{"Breed":"WEL","Mb":91.7,"LDU":0.001},{"Breed":"WEL","Mb":92.2,"LDU":0.0005},{"Breed":"WEL","Mb":92.7,"LDU":0.001},{"Breed":"WEL","Mb":93.1,"LDU":0.002},{"Breed":"WEL","Mb":93.5,"LDU":0.0056},{"Breed":"WEL","Mb":93.9,"LDU":0.001},{"Breed":"WEL","Mb":94.4,"LDU":0.0003},{"Breed":"WEL","Mb":95,"LDU":0.0003},{"Breed":"WEL","Mb":95.5,"LDU":0.0005},
{"Breed":"WEL","Mb":96,"LDU":0.002},{"Breed":"WEL","Mb":96.6,"LDU":0.0107},{"Breed":"WEL","Mb":97,"LDU":0.003},{"Breed":"WEL","Mb":97.5,"LDU":0.006},{"Breed":"WEL","Mb":98,"LDU":0.004},{"Breed":"WEL","Mb":98.4,"LDU":0.0103},{"Breed":"WEL","Mb":98.8,"LDU":0.003},{"Breed":"WEL","Mb":99.2,"LDU":0.007},{"Breed":"WEL","Mb":99.6,"LDU":0.004},{"Breed":"WEL","Mb":100.1,"LDU":0.013},{"Breed":"WEL","Mb":100.5,"LDU":0.004},
{"Breed":"WEL","Mb":100.9,"LDU":0.008},{"Breed":"WEL","Mb":101.2,"LDU":0.013},{"Breed":"WEL","Mb":101.6,"LDU":0.005},{"Breed":"WEL","Mb":102,"LDU":0.007},{"Breed":"WEL","Mb":102.3,"LDU":0.013},{"Breed":"WEL","Mb":102.7,"LDU":0.004},{"Breed":"WEL","Mb":103.2,"LDU":0.006},{"Breed":"WEL","Mb":103.6,"LDU":0.0084},{"Breed":"WEL","Mb":104,"LDU":0.003},{"Breed":"WEL","Mb":104.5,"LDU":0.005},{"Breed":"WEL","Mb":105,"LDU":0.002},{"Breed":"WEL","Mb":105.4,"LDU":0.0056},
{"Breed":"WEL","Mb":105.8,"LDU":0.002},{"Breed":"WEL","Mb":106.3,"LDU":0.004},{"Breed":"WEL","Mb":106.7,"LDU":0.006},{"Breed":"WEL","Mb":107.1,"LDU":0.011},{"Breed":"WEL","Mb":107.5,"LDU":0.004},{"Breed":"WEL","Mb":107.9,"LDU":0.008},{"Breed":"WEL","Mb":108.4,"LDU":0.015},{"Breed":"WEL","Mb":108.7,"LDU":0.005},{"Breed":"WEL","Mb":109,"LDU":0.009},{"Breed":"WEL","Mb":109.2,"LDU":0.005},{"Breed":"WEL","Mb":109.3,"LDU":0.0256},{"Breed":"WEL","Mb":109.5,"LDU":0.006},{"Breed":"WEL","Mb":109.9,"LDU":0.008},{"Breed":"WEL","Mb":110.2,"LDU":0.0093},{"Breed":"WEL","Mb":110.5,"LDU":0.004},
{"Breed":"WEL","Mb":110.8,"LDU":0.007},{"Breed":"WEL","Mb":111.2,"LDU":0.005},{"Breed":"WEL","Mb":111.4,"LDU":0.005},{"Breed":"WEL","Mb":111.5,"LDU":0.0333},{"Breed":"WEL","Mb":111.7,"LDU":0.006},{"Breed":"WEL","Mb":112,"LDU":0.009},{"Breed":"WEL","Mb":112.3,"LDU":0.0084},{"Breed":"WEL","Mb":112.7,"LDU":0.004},{"Breed":"WEL","Mb":113,"LDU":0.006},{"Breed":"WEL","Mb":113.3,"LDU":0.003},{"Breed":"WEL","Mb":113.7,"LDU":0.019},{"Breed":"WEL","Mb":114,"LDU":0.004},{"Breed":"WEL","Mb":114.5,"LDU":0.0084},{"Breed":"WEL","Mb":114.9,"LDU":0.003},
{"Breed":"WEL","Mb":115.3,"LDU":0.006},{"Breed":"WEL","Mb":115.7,"LDU":0.002},{"Breed":"WEL","Mb":116.2,"LDU":0.005},{"Breed":"WEL","Mb":116.7,"LDU":0.0075},{"Breed":"WEL","Mb":117.1,"LDU":0.002},{"Breed":"WEL","Mb":117.6,"LDU":0.004},{"Breed":"WEL","Mb":118,"LDU":0.001},{"Breed":"WEL","Mb":118.5,"LDU":0.003},{"Breed":"WEL","Mb":118.9,"LDU":0.0005},{"Breed":"WEL","Mb":119.4,"LDU":0.002},{"Breed":"WEL","Mb":119.8,"LDU":0.0056},{"Breed":"WEL","Mb":120.2,"LDU":0.001},
{"Breed":"WEL","Mb":120.7,"LDU":0.0005},{"Breed":"WEL","Mb":121.2,"LDU":0.001},{"Breed":"WEL","Mb":121.7,"LDU":0.003},{"Breed":"WEL","Mb":122.1,"LDU":0.001},{"Breed":"WEL","Mb":122.4,"LDU":0.0047},{"Breed":"WEL","Mb":122.8,"LDU":0.002},{"Breed":"WEL","Mb":123.1,"LDU":0.001},{"Breed":"WEL","Mb":123.3,"LDU":0.038},{"Breed":"WEL","Mb":123.5,"LDU":0.006},{"Breed":"WEL","Mb":123.7,"LDU":0.016},{"Breed":"WEL","Mb":124,"LDU":0.003},{"Breed":"WEL","Mb":124.4,"LDU":0.005},{"Breed":"WEL","Mb":124.8,"LDU":0.002},
{"Breed":"WEL","Mb":125.3,"LDU":0.004},{"Breed":"WEL","Mb":125.9,"LDU":0.0093},{"Breed":"WEL","Mb":126.3,"LDU":0.005},{"Breed":"WEL","Mb":126.8,"LDU":0.0103},{"Breed":"WEL","Mb":127.2,"LDU":0.004},{"Breed":"WEL","Mb":127.7,"LDU":0.007},{"Breed":"WEL","Mb":128.1,"LDU":0.003},{"Breed":"WEL","Mb":128.5,"LDU":0.012},{"Breed":"WEL","Mb":128.9,"LDU":0.005},{"Breed":"WEL","Mb":129.3,"LDU":0.008},{"Breed":"WEL","Mb":129.8,"LDU":0.003},{"Breed":"WEL","Mb":130.3,"LDU":0.0088},{"Breed":"WEL","Mb":130.7,"LDU":0.004},
{"Breed":"WEL","Mb":131.1,"LDU":0.006},{"Breed":"WEL","Mb":131.6,"LDU":0.011},{"Breed":"WEL","Mb":132,"LDU":0.002},{"Breed":"WEL","Mb":132.5,"LDU":0.003},{"Breed":"WEL","Mb":133,"LDU":0.0005},{"Breed":"WEL","Mb":133.5,"LDU":0.001},{"Breed":"WEL","Mb":134,"LDU":0.002},{"Breed":"WEL","Mb":134.5,"LDU":0.004},{"Breed":"WEL","Mb":134.9,"LDU":0.0075},{"Breed":"WEL","Mb":135.3,"LDU":0.001},{"Breed":"WEL","Mb":135.8,"LDU":0.0005},
{"Breed":"WEL","Mb":136.3,"LDU":0.002},{"Breed":"WEL","Mb":136.8,"LDU":0.004},{"Breed":"WEL","Mb":137.3,"LDU":0.0088},{"Breed":"WEL","Mb":137.7,"LDU":0.001},{"Breed":"WEL","Mb":138.2,"LDU":0.003},{"Breed":"WEL","Mb":138.7,"LDU":0.005},{"Breed":"WEL","Mb":139.2,"LDU":0.0093},{"Breed":"WEL","Mb":139.6,"LDU":0.002},{"Breed":"WEL","Mb":140.1,"LDU":0.004},{"Breed":"WEL","Mb":140.6,"LDU":0.006},
{"Breed":"WEL","Mb":141.2,"LDU":0.0144},{"Breed":"WEL","Mb":141.5,"LDU":0.004},{"Breed":"WEL","Mb":142.1,"LDU":0.0103},{"Breed":"WEL","Mb":142.5,"LDU":0.003},{"Breed":"WEL","Mb":142.9,"LDU":0.006},{"Breed":"WEL","Mb":143.4,"LDU":0.002},{"Breed":"WEL","Mb":143.9,"LDU":0.004},{"Breed":"WEL","Mb":144.5,"LDU":0.0093},{"Breed":"WEL","Mb":144.8,"LDU":0.001},{"Breed":"WEL","Mb":145.3,"LDU":0.0005},{"Breed":"WEL","Mb":145.8,"LDU":0.002},
{"Breed":"WEL","Mb":146.2,"LDU":0.003},{"Breed":"WEL","Mb":146.7,"LDU":0.001},{"Breed":"WEL","Mb":147.1,"LDU":0.003},{"Breed":"WEL","Mb":147.5,"LDU":0.002},{"Breed":"WEL","Mb":147.9,"LDU":0.004},{"Breed":"WEL","Mb":148.2,"LDU":0.0136},{"Breed":"WEL","Mb":148.4,"LDU":0.004},{"Breed":"WEL","Mb":148.6,"LDU":0},
{"Breed":"WEL","Mb":2.3,"LDU":0.001},{"Breed":"WEL","Mb":2.75,"LDU":0.003},{"Breed":"WEL","Mb":3.25,"LDU":0.002},{"Breed":"WEL","Mb":3.75,"LDU":0.004},{"Breed":"WEL","Mb":4.25,"LDU":0.001},{"Breed":"WEL","Mb":5.25,"LDU":0.002},{"Breed":"WEL","Mb":5.75,"LDU":0.004},{"Breed":"WEL","Mb":6.15,"LDU":0.002},{"Breed":"WEL","Mb":6.5,"LDU":0.0015},{"Breed":"WEL","Mb":6.85,"LDU":0.003},{"Breed":"WEL","Mb":7.25,"LDU":0.002},{"Breed":"WEL","Mb":7.65,"LDU":0.003},{"Breed":"WEL","Mb":8.4,"LDU":0.001},{"Breed":"WEL","Mb":8.85,"LDU":0.004},{"Breed":"WEL","Mb":9.25,"LDU":0.001},{"Breed":"WEL","Mb":9.75,"LDU":0.002},{"Breed":"WEL","Mb":10.25,"LDU":0.0035},{"Breed":"WEL","Mb":10.75,"LDU":0.001},{"Breed":"WEL","Mb":11.35,"LDU":0.003},{"Breed":"WEL","Mb":11.85,"LDU":0.002},{"Breed":"WEL","Mb":12.3,"LDU":0.0025},
{"Breed":"WEL","Mb":16.15,"LDU":0.002},{"Breed":"WEL","Mb":16.8,"LDU":0.0025},{"Breed":"WEL","Mb":17.25,"LDU":0.0035},{"Breed":"WEL","Mb":18.4,"LDU":0.001},{"Breed":"WEL","Mb":19.4,"LDU":0.0015},{"Breed":"WEL","Mb":19.8,"LDU":0.0025},{"Breed":"WEL","Mb":20.6,"LDU":0.001},{"Breed":"WEL","Mb":21.05,"LDU":0.002},{"Breed":"WEL","Mb":21.5,"LDU":0.004},{"Breed":"WEL","Mb":21.85,"LDU":0.001},{"Breed":"WEL","Mb":22.25,"LDU":0.0035},{"Breed":"WEL","Mb":22.8,"LDU":0.0025},{"Breed":"WEL","Mb":23.3,"LDU":0.0015},{"Breed":"WEL","Mb":23.75,"LDU":0.003},{"Breed":"WEL","Mb":24.25,"LDU":0.0015},{"Breed":"WEL","Mb":24.85,"LDU":0.004},{"Breed":"WEL","Mb":25.4,"LDU":0.0015},{"Breed":"WEL","Mb":25.8,"LDU":0.002},{"Breed":"WEL","Mb":26.25,"LDU":0.004},{"Breed":"WEL","Mb":26.75,"LDU":0.0015},{"Breed":"WEL","Mb":27.25,"LDU":0.003},{"Breed":"WEL","Mb":27.9,"LDU":0.002},{"Breed":"WEL","Mb":28.55,"LDU":0.001},{"Breed":"WEL","Mb":29.05,"LDU":0.0035},{"Breed":"WEL","Mb":29.55,"LDU":0.001},{"Breed":"WEL","Mb":30.05,"LDU":0.0025},{"Breed":"WEL","Mb":30.5,"LDU":0.0015},{"Breed":"WEL","Mb":30.95,"LDU":0.001},{"Breed":"WEL","Mb":31.45,"LDU":0.0035},{"Breed":"WEL","Mb":31.95,"LDU":0.001},{"Breed":"WEL","Mb":32.45,"LDU":0.004},{"Breed":"WEL","Mb":32.9,"LDU":0.002},{"Breed":"WEL","Mb":33.3,"LDU":0.001},{"Breed":"WEL","Mb":33.8,"LDU":0.0035},{"Breed":"WEL","Mb":34.3,"LDU":0.001},{"Breed":"WEL","Mb":34.75,"LDU":0.003},{"Breed":"WEL","Mb":35.55,"LDU":0.001},{"Breed":"WEL","Mb":36.05,"LDU":0.0025},{"Breed":"WEL","Mb":36.55,"LDU":0.0005},{"Breed":"WEL","Mb":37.05,"LDU":0.0015},{"Breed":"WEL","Mb":37.55,"LDU":0.001},{"Breed":"WEL","Mb":38.05,"LDU":0.003},{"Breed":"WEL","Mb":38.55,"LDU":0.001},{"Breed":"WEL","Mb":39.05,"LDU":0.002},{"Breed":"WEL","Mb":39.55,"LDU":0.001},
{"Breed":"WEL","Mb":41.45,"LDU":0.002},{"Breed":"WEL","Mb":41.95,"LDU":0.004},{"Breed":"WEL","Mb":42.45,"LDU":0.001},{"Breed":"WEL","Mb":42.95,"LDU":0.0035},{"Breed":"WEL","Mb":43.4,"LDU":0.002},{"Breed":"WEL","Mb":43.85,"LDU":0.0025},{"Breed":"WEL","Mb":44.3,"LDU":0.0015},{"Breed":"WEL","Mb":44.65,"LDU":0.003},{"Breed":"WEL","Mb":45.3,"LDU":0.002},{"Breed":"WEL","Mb":45.75,"LDU":0.004},{"Breed":"WEL","Mb":46.25,"LDU":0.001},{"Breed":"WEL","Mb":46.75,"LDU":0.0035},{"Breed":"WEL","Mb":47.25,"LDU":0.001},{"Breed":"WEL","Mb":47.75,"LDU":0.002},{"Breed":"WEL","Mb":48.25,"LDU":0.0005},{"Breed":"WEL","Mb":48.7,"LDU":0.002},{"Breed":"WEL","Mb":49.1,"LDU":0.0015},{"Breed":"WEL","Mb":49.55,"LDU":0.004},{"Breed":"WEL","Mb":50,"LDU":0.001},{"Breed":"WEL","Mb":50.45,"LDU":0.002},
{"Breed":"WEL","Mb":55.6,"LDU":0.002},{"Breed":"WEL","Mb":56,"LDU":0.0025},{"Breed":"WEL","Mb":56.45,"LDU":0.003},{"Breed":"WEL","Mb":56.95,"LDU":0.0015},{"Breed":"WEL","Mb":57.4,"LDU":0.003},{"Breed":"WEL","Mb":57.8,"LDU":0.0015},{"Breed":"WEL","Mb":58.25,"LDU":0.002},{"Breed":"WEL","Mb":59.65,"LDU":0.0015},{"Breed":"WEL","Mb":60.05,"LDU":0.004},{"Breed":"WEL","Mb":60.55,"LDU":0.001},{"Breed":"WEL","Mb":61,"LDU":0.003},{"Breed":"WEL","Mb":61.4,"LDU":0.002},{"Breed":"WEL","Mb":61.8,"LDU":0.0035},{"Breed":"WEL","Mb":62.15,"LDU":0.003},{"Breed":"WEL","Mb":62.5,"LDU":0.002},{"Breed":"WEL","Mb":63,"LDU":0.0035},{"Breed":"WEL","Mb":63.5,"LDU":0.0015},{"Breed":"WEL","Mb":63.95,"LDU":0.0035},{"Breed":"WEL","Mb":64.45,"LDU":0.0015},{"Breed":"WEL","Mb":64.95,"LDU":0.0035},{"Breed":"WEL","Mb":65.4,"LDU":0.0015},{"Breed":"WEL","Mb":65.8,"LDU":0.004},{"Breed":"WEL","Mb":66.2,"LDU":0.003},{"Breed":"WEL","Mb":66.6,"LDU":0.002},
{"Breed":"WEL","Mb":67.05,"LDU":0.0015},{"Breed":"WEL","Mb":67.55,"LDU":0.0025},{"Breed":"WEL","Mb":68.05,"LDU":0.0015},{"Breed":"WEL","Mb":68.55,"LDU":0.004},{"Breed":"WEL","Mb":69,"LDU":0.002},{"Breed":"WEL","Mb":69.4,"LDU":0.003},{"Breed":"WEL","Mb":69.8,"LDU":0.002},{"Breed":"WEL","Mb":72.25,"LDU":0.002},{"Breed":"WEL","Mb":72.7,"LDU":0.0015},{"Breed":"WEL","Mb":74.05,"LDU":0.002},{"Breed":"WEL","Mb":74.5,"LDU":0.0035},{"Breed":"WEL","Mb":74.95,"LDU":0.002},{"Breed":"WEL","Mb":75.4,"LDU":0.0025},{"Breed":"WEL","Mb":75.8,"LDU":0.003},{"Breed":"WEL","Mb":76.2,"LDU":0.002},{"Breed":"WEL","Mb":76.6,"LDU":0.003},{"Breed":"WEL","Mb":77.05,"LDU":0.002},{"Breed":"WEL","Mb":77.5,"LDU":0.003},{"Breed":"WEL","Mb":77.95,"LDU":0.002},{"Breed":"WEL","Mb":78.45,"LDU":0.004},{"Breed":"WEL","Mb":78.95,"LDU":0.0015},{"Breed":"WEL","Mb":79.5,"LDU":0.003},
{"Breed":"WEL","Mb":85,"LDU":0.0015},{"Breed":"WEL","Mb":85.4,"LDU":0.002},{"Breed":"WEL","Mb":85.85,"LDU":0.003},{"Breed":"WEL","Mb":86.3,"LDU":0.004},{"Breed":"WEL","Mb":86.7,"LDU":0.002},{"Breed":"WEL","Mb":87.1,"LDU":0.0035},{"Breed":"WEL","Mb":87.5,"LDU":0.0015},{"Breed":"WEL","Mb":87.95,"LDU":0.0035},{"Breed":"WEL","Mb":88.4,"LDU":0.0015},{"Breed":"WEL","Mb":88.9,"LDU":0.004},{"Breed":"WEL","Mb":89.4,"LDU":0.002},{"Breed":"WEL","Mb":89.8,"LDU":0.003},{"Breed":"WEL","Mb":90.2,"LDU":0.0015},{"Breed":"WEL","Mb":90.6,"LDU":0.0025},
{"Breed":"WEL","Mb":96.3,"LDU":0.0025},{"Breed":"WEL","Mb":96.8,"LDU":0.002},{"Breed":"WEL","Mb":97.25,"LDU":0.0035},{"Breed":"WEL","Mb":97.75,"LDU":0.0015},{"Breed":"WEL","Mb":98.2,"LDU":0.0025},{"Breed":"WEL","Mb":98.6,"LDU":0.002},{"Breed":"WEL","Mb":99,"LDU":0.003},{"Breed":"WEL","Mb":99.4,"LDU":0.002},{"Breed":"WEL","Mb":99.85,"LDU":0.0035},{"Breed":"WEL","Mb":100.3,"LDU":0.002},{"Breed":"WEL","Mb":100.7,"LDU":0.003},{"Breed":"WEL","Mb":101.05,"LDU":0.002},{"Breed":"WEL","Mb":101.4,"LDU":0.003},{"Breed":"WEL","Mb":101.8,"LDU":0.002},{"Breed":"WEL","Mb":102.15,"LDU":0.0035},{"Breed":"WEL","Mb":102.5,"LDU":0.002},{"Breed":"WEL","Mb":102.95,"LDU":0.0035},{"Breed":"WEL","Mb":103.4,"LDU":0.002},{"Breed":"WEL","Mb":103.8,"LDU":0.0035},{"Breed":"WEL","Mb":104.25,"LDU":0.0015},{"Breed":"WEL","Mb":104.75,"LDU":0.003},{"Breed":"WEL","Mb":105.2,"LDU":0.001},
{"Breed":"WEL","Mb":106.05,"LDU":0.0015},{"Breed":"WEL","Mb":106.5,"LDU":0.002},{"Breed":"WEL","Mb":106.9,"LDU":0.0025},{"Breed":"WEL","Mb":107.3,"LDU":0.002},{"Breed":"WEL","Mb":107.7,"LDU":0.003},{"Breed":"WEL","Mb":108.15,"LDU":0.0025},{"Breed":"WEL","Mb":108.55,"LDU":0.003},{"Breed":"WEL","Mb":108.85,"LDU":0.002},{"Breed":"WEL","Mb":109.7,"LDU":0.003},{"Breed":"WEL","Mb":110.05,"LDU":0.003},{"Breed":"WEL","Mb":110.35,"LDU":0.002},{"Breed":"WEL","Mb":110.65,"LDU":0.003},{"Breed":"WEL","Mb":111,"LDU":0.002},{"Breed":"WEL","Mb":111.85,"LDU":0.003},{"Breed":"WEL","Mb":112.15,"LDU":0.0025},{"Breed":"WEL","Mb":112.5,"LDU":0.003},{"Breed":"WEL","Mb":112.85,"LDU":0.002},{"Breed":"WEL","Mb":113.15,"LDU":0.004},{"Breed":"WEL","Mb":113.5,"LDU":0.002},{"Breed":"WEL","Mb":113.85,"LDU":0.003},{"Breed":"WEL","Mb":114.25,"LDU":0.002},{"Breed":"WEL","Mb":114.7,"LDU":0.004},{"Breed":"WEL","Mb":115.1,"LDU":0.002},{"Breed":"WEL","Mb":115.5,"LDU":0.003},{"Breed":"WEL","Mb":115.95,"LDU":0.0015},{"Breed":"WEL","Mb":116.45,"LDU":0.003},{"Breed":"WEL","Mb":116.9,"LDU":0.0015},{"Breed":"WEL","Mb":117.35,"LDU":0.002},
{"Breed":"WEL","Mb":124.2,"LDU":0.002},{"Breed":"WEL","Mb":124.6,"LDU":0.003},{"Breed":"WEL","Mb":125.05,"LDU":0.0015},{"Breed":"WEL","Mb":125.6,"LDU":0.003},{"Breed":"WEL","Mb":126.1,"LDU":0.002},{"Breed":"WEL","Mb":126.55,"LDU":0.003},{"Breed":"WEL","Mb":127,"LDU":0.0015},{"Breed":"WEL","Mb":127.45,"LDU":0.0035},{"Breed":"WEL","Mb":127.9,"LDU":0.002},{"Breed":"WEL","Mb":128.3,"LDU":0.0035},{"Breed":"WEL","Mb":128.7,"LDU":0.002},{"Breed":"WEL","Mb":129.1,"LDU":0.0035},{"Breed":"WEL","Mb":129.55,"LDU":0.002},{"Breed":"WEL","Mb":130.05,"LDU":0.003},{"Breed":"WEL","Mb":130.5,"LDU":0.0015},{"Breed":"WEL","Mb":130.9,"LDU":0.003},{"Breed":"WEL","Mb":131.35,"LDU":0.002},{"Breed":"WEL","Mb":131.8,"LDU":0.0015},
{"Breed":"WEL","Mb":134.7,"LDU":0.002},{"Breed":"WEL","Mb":136.55,"LDU":0.0015},{"Breed":"WEL","Mb":137.05,"LDU":0.003},{"Breed":"WEL","Mb":137.5,"LDU":0.002},{"Breed":"WEL","Mb":138.45,"LDU":0.0015},{"Breed":"WEL","Mb":138.95,"LDU":0.003},{"Breed":"WEL","Mb":139.4,"LDU":0.0015},{"Breed":"WEL","Mb":139.85,"LDU":0.003},{"Breed":"WEL","Mb":140.35,"LDU":0.0015},{"Breed":"WEL","Mb":140.9,"LDU":0.003},{"Breed":"WEL","Mb":141.35,"LDU":0.002},{"Breed":"WEL","Mb":141.8,"LDU":0.003},{"Breed":"WEL","Mb":142.3,"LDU":0.0015},{"Breed":"WEL","Mb":142.7,"LDU":0.003},{"Breed":"WEL","Mb":143.15,"LDU":0.0015},{"Breed":"WEL","Mb":143.65,"LDU":0.0015},{"Breed":"WEL","Mb":144.2,"LDU":0.002},{"Breed":"WEL","Mb":146.45,"LDU":0.0015},{"Breed":"WEL","Mb":146.9,"LDU":0.002},{"Breed":"WEL","Mb":147.3,"LDU":0.001},{"Breed":"WEL","Mb":147.7,"LDU":0.0025},{"Breed":"WEL","Mb":148.05,"LDU":0.002}
]},
"spacing":0,
"vconcat":[
{"spacing":1,"vconcat":[
 {"width":622,"height":16,"data":{"values":[{"Breed":"BEL"}]},"layer":[{"mark":{"type":"rect","color":"#CCCCCC"},"encoding":{}},{"mark":{"type":"text","fontSize":11,"color":"#1A1A1A","font":"Liberation Sans"},"encoding":{"text":{"field":"Breed"}}}]},
 {"width":622,"height":150,"layer":[
  {"data":{"values":[{"Mb":25},{"Mb":75},{"Mb":125}]},"mark":{"type":"rule","color":"#F2F2F2","strokeWidth":0.6},"encoding":{"x":{"field":"Mb","type":"quantitative","scale":{"domain":[-7.4,155.9],"nice":false,"zero":false},"axis":{"values":[0,50,100,150],"labels":false,"ticks":false,"domain":false,"title":null,"grid":true}}}},
  {"data":{"values":[{"LDU":0.01},{"LDU":0.03},{"LDU":0.05},{"LDU":0.07}]},"mark":{"type":"rule","color":"#F2F2F2","strokeWidth":0.6},"encoding":{"y":{"field":"LDU","type":"quantitative","scale":{"domain":[-0.0039,0.0814],"nice":false,"zero":false},"axis":{"values":[0,0.02,0.04,0.06,0.08],"format":".2f","title":null,"labelPadding":6,"labelOverlap":false}}}},
  {"data":{"name":"ld"},"transform":[{"filter":"datum.Breed === 'BEL'"}],"mark":{"type":"line","strokeWidth":1.2},"encoding":{
   "x":{"field":"Mb","type":"quantitative","scale":{"domain":[-7.4,155.9],"nice":false,"zero":false},"axis":{"values":[0,50,100,150],"labels":false,"ticks":false,"domain":false,"title":null,"grid":true}},
   "y":{"field":"LDU","type":"quantitative","scale":{"domain":[-0.0039,0.0814],"nice":false,"zero":false},"axis":{"values":[0,0.02,0.04,0.06,0.08],"format":".2f","title":null,"labelPadding":6,"labelOverlap":false}},
   "color":{"field":"Breed","type":"nominal","scale":{"domain":["BEL","BRO","WEL"],"range":["#006400","#FF0000","#0000FF"]},"legend":{"title":"Breed","orient":"none","legendX":637,"legendY":226}}}}
 ]}
]},
{"spacing":1,"vconcat":[
 {"width":622,"height":16,"data":{"values":[{"Breed":"BRO"}]},"layer":[{"mark":{"type":"rect","color":"#CCCCCC"},"encoding":{}},{"mark":{"type":"text","fontSize":11,"color":"#1A1A1A","font":"Liberation Sans"},"encoding":{"text":{"field":"Breed"}}}]},
 {"width":622,"height":150,"layer":[
  {"data":{"values":[{"Mb":25},{"Mb":75},{"Mb":125}]},"mark":{"type":"rule","color":"#F2F2F2","strokeWidth":0.6},"encoding":{"x":{"field":"Mb","type":"quantitative","scale":{"domain":[-7.4,155.9],"nice":false,"zero":false},"axis":{"values":[0,50,100,150],"labels":false,"ticks":false,"domain":false,"title":null,"grid":true}}}},
  {"data":{"values":[{"LDU":0.01},{"LDU":0.03},{"LDU":0.05},{"LDU":0.07}]},"mark":{"type":"rule","color":"#F2F2F2","strokeWidth":0.6},"encoding":{"y":{"field":"LDU","type":"quantitative","scale":{"domain":[-0.0039,0.0814],"nice":false,"zero":false},"axis":{"values":[0,0.02,0.04,0.06,0.08],"format":".2f","title":"LDU/kb","labelPadding":6,"titlePadding":8,"labelOverlap":false}}}},
  {"data":{"name":"ld"},"transform":[{"filter":"datum.Breed === 'BRO'"}],"mark":{"type":"line","strokeWidth":1.2},"encoding":{
   "x":{"field":"Mb","type":"quantitative","scale":{"domain":[-7.4,155.9],"nice":false,"zero":false},"axis":{"values":[0,50,100,150],"labels":false,"ticks":false,"domain":false,"title":null,"grid":true}},
   "y":{"field":"LDU","type":"quantitative","scale":{"domain":[-0.0039,0.0814],"nice":false,"zero":false},"axis":{"values":[0,0.02,0.04,0.06,0.08],"format":".2f","title":"LDU/kb","labelPadding":6,"titlePadding":8,"labelOverlap":false}},
   "color":{"field":"Breed","type":"nominal","scale":{"domain":["BEL","BRO","WEL"],"range":["#006400","#FF0000","#0000FF"]},"legend":{"title":"Breed","orient":"none","legendX":637,"legendY":226}}}}
 ]}
]},
{"spacing":1,"vconcat":[
 {"width":622,"height":16,"data":{"values":[{"Breed":"WEL"}]},"layer":[{"mark":{"type":"rect","color":"#CCCCCC"},"encoding":{}},{"mark":{"type":"text","fontSize":11,"color":"#1A1A1A","font":"Liberation Sans"},"encoding":{"text":{"field":"Breed"}}}]},
 {"width":622,"height":150,"layer":[
  {"data":{"values":[{"Mb":25},{"Mb":75},{"Mb":125}]},"mark":{"type":"rule","color":"#F2F2F2","strokeWidth":0.6},"encoding":{"x":{"field":"Mb","type":"quantitative","scale":{"domain":[-7.4,155.9],"nice":false,"zero":false},"axis":{"values":[0,50,100,150],"title":"Position (Mb)","labelPadding":3,"titlePadding":5,"grid":true}}}},
  {"data":{"values":[{"LDU":0.01},{"LDU":0.03},{"LDU":0.05},{"LDU":0.07}]},"mark":{"type":"rule","color":"#F2F2F2","strokeWidth":0.6},"encoding":{"y":{"field":"LDU","type":"quantitative","scale":{"domain":[-0.0039,0.0814],"nice":false,"zero":false},"axis":{"values":[0,0.02,0.04,0.06,0.08],"format":".2f","title":null,"labelPadding":6,"labelOverlap":false}}}},
  {"data":{"name":"ld"},"transform":[{"filter":"datum.Breed === 'WEL'"}],"mark":{"type":"line","strokeWidth":1.2},"encoding":{
   "x":{"field":"Mb","type":"quantitative","scale":{"domain":[-7.4,155.9],"nice":false,"zero":false},"axis":{"values":[0,50,100,150],"title":"Position (Mb)","labelPadding":3,"titlePadding":5,"grid":true}},
   "y":{"field":"LDU","type":"quantitative","scale":{"domain":[-0.0039,0.0814],"nice":false,"zero":false},"axis":{"values":[0,0.02,0.04,0.06,0.08],"format":".2f","title":null,"labelPadding":6,"labelOverlap":false}},
   "color":{"field":"Breed","type":"nominal","scale":{"domain":["BEL","BRO","WEL"],"range":["#006400","#FF0000","#0000FF"]},"legend":{"title":"Breed","orient":"none","legendX":637,"legendY":226}}}}
 ]}
]}
]
}
